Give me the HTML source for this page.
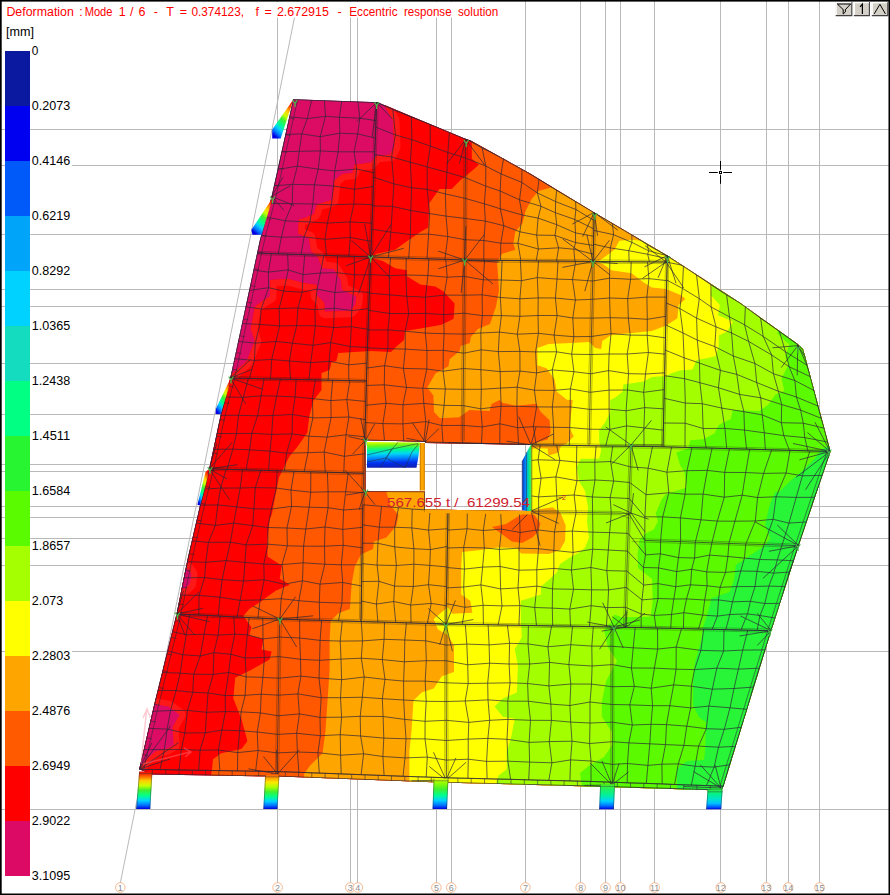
<!DOCTYPE html>
<html><head><meta charset="utf-8"><title>Deformation</title>
<style>html,body{margin:0;padding:0;background:#fff;width:890px;height:895px;overflow:hidden;font-family:"Liberation Sans",sans-serif}</style>
</head><body>
<svg width="890" height="895" viewBox="0 0 890 895" style="position:absolute;left:0;top:0">
<rect x="0" y="0" width="890" height="895" fill="#fff"/>
<g stroke="#b9b9b9" stroke-width="1" fill="none">
<line x1="277.5" y1="0" x2="277.5" y2="883"/>
<line x1="350.5" y1="0" x2="350.5" y2="883"/>
<line x1="357.5" y1="0" x2="357.5" y2="883"/>
<line x1="436.5" y1="0" x2="436.5" y2="883"/>
<line x1="451.5" y1="0" x2="451.5" y2="883"/>
<line x1="525.5" y1="0" x2="525.5" y2="883"/>
<line x1="580.5" y1="0" x2="580.5" y2="883"/>
<line x1="605.5" y1="0" x2="605.5" y2="883"/>
<line x1="620.5" y1="0" x2="620.5" y2="883"/>
<line x1="654.5" y1="0" x2="654.5" y2="883"/>
<line x1="720.5" y1="0" x2="720.5" y2="883"/>
<line x1="766.5" y1="0" x2="766.5" y2="883"/>
<line x1="788.5" y1="0" x2="788.5" y2="883"/>
<line x1="819.5" y1="0" x2="819.5" y2="883"/>
<line x1="0" y1="129.5" x2="890" y2="129.5"/>
<line x1="0" y1="165.5" x2="890" y2="165.5"/>
<line x1="0" y1="234.5" x2="890" y2="234.5"/>
<line x1="0" y1="289.5" x2="890" y2="289.5"/>
<line x1="0" y1="306.5" x2="890" y2="306.5"/>
<line x1="0" y1="363.5" x2="890" y2="363.5"/>
<line x1="0" y1="414.5" x2="890" y2="414.5"/>
<line x1="0" y1="464.5" x2="890" y2="464.5"/>
<line x1="0" y1="471.5" x2="890" y2="471.5"/>
<line x1="0" y1="506.5" x2="890" y2="506.5"/>
<line x1="0" y1="517.5" x2="890" y2="517.5"/>
<line x1="0" y1="538.5" x2="890" y2="538.5"/>
<line x1="0" y1="565.5" x2="890" y2="565.5"/>
<line x1="0" y1="651.5" x2="890" y2="651.5"/>
<line x1="0" y1="809.5" x2="890" y2="809.5"/>
<line x1="120.3" y1="883" x2="298" y2="0"/>
</g>
<g fill="#fff" stroke="#f8b890" stroke-width="1">
<circle cx="120.3" cy="887.5" r="4.8"/>
<circle cx="277.6" cy="887.5" r="4.8"/>
<circle cx="350.3" cy="887.5" r="4.8"/>
<circle cx="357.8" cy="887.5" r="4.8"/>
<circle cx="436.4" cy="887.5" r="4.8"/>
<circle cx="451.2" cy="887.5" r="4.8"/>
<circle cx="525.4" cy="887.5" r="4.8"/>
<circle cx="580.7" cy="887.5" r="4.8"/>
<circle cx="605.6" cy="887.5" r="4.8"/>
<circle cx="620.4" cy="887.5" r="4.8"/>
<circle cx="654.6" cy="887.5" r="4.8"/>
<circle cx="720.8" cy="887.5" r="4.8"/>
<circle cx="766.3" cy="887.5" r="4.8"/>
<circle cx="788.2" cy="887.5" r="4.8"/>
<circle cx="819.5" cy="887.5" r="4.8"/>
</g>
<g font-family="Liberation Sans, sans-serif" font-size="9" fill="#909090" text-anchor="middle">
<text x="120.3" y="890.7">1</text>
<text x="277.6" y="890.7">2</text>
<text x="350.3" y="890.7">3</text>
<text x="357.8" y="890.7">4</text>
<text x="436.4" y="890.7">5</text>
<text x="451.2" y="890.7">6</text>
<text x="525.4" y="890.7">7</text>
<text x="580.7" y="890.7">8</text>
<text x="605.6" y="890.7">9</text>
<text x="620.4" y="890.7">10</text>
<text x="654.6" y="890.7">11</text>
<text x="720.8" y="890.7">12</text>
<text x="766.3" y="890.7">13</text>
<text x="788.2" y="890.7">14</text>
<text x="819.5" y="890.7">15</text>
</g>
<defs><clipPath id="slabclip"><path clip-rule="evenodd" d="M293.2 99.2 L377.8 102.2 L463.5 138.0 L471.1 140.7 L530.0 173.5 L594.2 212.4 L667.3 255.6 L740.0 302.7 L797.3 343.8 L803.0 349.0 L805.0 356.0 L830.5 451.4 L798.6 545.7 L771.2 630.7 L723.5 786.2 L721.5 790.4 L590.0 786.4 L440.0 782.6 L280.0 776.6 L152.4 774.4 L139.2 769.3 L155.3 700.0 L176.5 614.0 L187.6 559.0 L200.0 505.6 L209.2 468.8 L220.8 414.3 L230.3 378.0 L259.9 240.0 L271.6 196.3 Z M365.5 440.3 L424.8 441.8 L425.5 443.0 L531.4 444.8 L531.4 511.0 L424.8 509.5 L424.8 491.5 L365.5 491.3 Z"/></clipPath></defs>
<g clip-path="url(#slabclip)">
<rect x="100" y="80" width="760" height="730" fill="rgb(220,12,100)"/>
<defs><clipPath id="mrclip"><polygon points="381.8,90.0 383.8,104.0 393.0,120.5 394.0,146.7 390.0,154.8 376.7,155.7 370.7,162.8 354.5,164.8 352.5,172.9 342.4,173.9 334.0,181.0 332.0,200.0 317.0,204.5 314.0,214.0 305.0,218.0 299.0,219.6 298.0,233.6 309.0,238.0 311.0,251.0 318.0,257.0 322.0,268.0 334.0,269.0 341.0,280.0 342.0,289.4 356.5,296.5 355.5,304.6 350.5,310.7 325.0,311.7 324.0,302.6 317.0,295.5 316.9,285.0 303.0,283.0 288.5,279.0 270.3,280.0 270.0,296.6 262.9,300.7 254.8,306.7 250.8,329.0 254.8,341.0 246.7,361.4 232.6,373.5 220.0,377.0 100.0,377.0 100.0,900.0 900.0,900.0 900.0,0.0 381.8,0.0"/></clipPath></defs>
<polygon points="381.8,90.0 383.8,104.0 393.0,120.5 394.0,146.7 390.0,154.8 376.7,155.7 370.7,162.8 354.5,164.8 352.5,172.9 342.4,173.9 334.0,181.0 332.0,200.0 317.0,204.5 314.0,214.0 305.0,218.0 299.0,219.6 298.0,233.6 309.0,238.0 311.0,251.0 318.0,257.0 322.0,268.0 334.0,269.0 341.0,280.0 342.0,289.4 356.5,296.5 355.5,304.6 350.5,310.7 325.0,311.7 324.0,302.6 317.0,295.5 316.9,285.0 303.0,283.0 288.5,279.0 270.3,280.0 270.0,296.6 262.9,300.7 254.8,306.7 250.8,329.0 254.8,341.0 246.7,361.4 232.6,373.5 220.0,377.0 100.0,377.0 100.0,900.0 900.0,900.0 900.0,0.0 381.8,0.0" fill="rgb(255,0,0)"/>
<polygon points="381.8,90.0 383.8,104.0 393.0,120.5 394.0,146.7 390.0,154.8 376.7,155.7 370.7,162.8 354.5,164.8 352.5,172.9 342.4,173.9 334.0,181.0 332.0,200.0 317.0,204.5 314.0,214.0 305.0,218.0 299.0,219.6 298.0,233.6 309.0,238.0 311.0,251.0 318.0,257.0 322.0,268.0 334.0,269.0 341.0,280.0 342.0,289.4 356.5,296.5 355.5,304.6 350.5,310.7 325.0,311.7 324.0,302.6 317.0,295.5 316.9,285.0 303.0,283.0 288.5,279.0 270.3,280.0 270.0,296.6 262.9,300.7 254.8,306.7 250.8,329.0 254.8,341.0 246.7,361.4 232.6,373.5 220.0,377.0 100.0,377.0 100.0,900.0 900.0,900.0 900.0,0.0 381.8,0.0" fill="none" stroke="rgb(255,24,24)" stroke-width="13" stroke-linejoin="round" clip-path="url(#mrclip)"/>
<polygon points="183.0,568.0 188.0,569.0 191.5,574.0 190.0,584.0 186.0,588.0 180.0,590.0" fill="rgb(255,24,24)" stroke="rgb(255,24,24)" stroke-width="12" stroke-linejoin="round"/>
<polygon points="148.0,703.0 168.5,706.6 179.7,714.7 172.6,726.9 173.6,745.0 166.5,749.0 156.4,751.0 146.3,759.2 141.0,766.0 130.0,768.0" fill="rgb(255,24,24)" stroke="rgb(255,24,24)" stroke-width="12" stroke-linejoin="round"/>
<polygon points="468.0,130.0 471.8,142.6 471.8,158.8 478.9,164.8 471.8,170.9 460.7,180.0 451.6,189.1 439.4,189.1 429.3,203.3 428.3,227.5 421.2,231.6 409.0,239.7 395.0,249.8 376.7,253.8 370.7,257.5 382.8,261.0 395.0,268.2 407.0,270.2 407.0,276.3 420.2,284.4 435.4,286.4 443.5,291.5 454.6,303.6 453.6,318.8 441.5,324.8 423.3,327.9 405.0,330.9 404.0,340.0 397.0,346.0 391.0,352.0 370.7,351.0 338.3,353.0 336.3,361.2 331.6,362.0 329.6,370.0 321.5,373.0 321.5,390.0 313.4,400.5 309.3,416.6 307.3,432.8 297.2,447.0 289.1,457.0 284.1,467.2 279.0,477.3 275.0,497.5 272.0,513.7 269.6,520.0 267.5,540.2 267.5,556.4 281.7,565.5 279.7,578.7 289.8,584.7 275.6,590.8 261.5,600.9 249.3,609.0 243.3,616.1 251.4,627.2 249.3,635.3 263.5,639.3 261.5,649.4 271.6,651.5 269.6,659.6 251.4,669.7 235.2,677.8 233.3,698.5 241.4,718.8 247.4,741.0 241.4,749.1 221.1,753.2 213.0,759.2 212.0,769.3 209.0,785.0 209.0,900.0 900.0,900.0 900.0,0.0 468.0,0.0" fill="rgb(255,88,0)"/>
<polygon points="554.0,175.0 552.7,187.1 538.5,191.1 531.5,199.2 525.4,211.4 522.4,223.5 515.3,231.6 513.3,243.7 515.3,249.8 502.1,253.8 497.1,261.9 499.0,290.5 496.0,306.6 490.0,324.0 477.9,328.9 470.8,337.0 469.8,343.0 460.7,346.0 459.7,351.0 449.6,359.2 448.5,366.3 435.4,373.4 427.3,387.5 433.4,395.6 434.0,412.0 440.0,418.2 459.2,417.2 469.3,410.0 489.6,411.0 491.6,404.0 499.7,400.0 502.1,402.7 516.3,405.7 536.5,403.7 540.6,411.8 549.6,420.2 550.6,432.4 547.5,439.4 533.4,443.5 500.0,470.0 386.4,492.0 390.5,505.2 398.5,515.3 396.5,525.4 386.4,537.5 374.0,541.6 373.0,549.0 360.9,554.4 354.8,566.5 351.8,582.7 349.8,609.0 338.7,613.0 330.6,621.1 329.6,641.4 329.6,669.7 327.5,700.6 325.5,730.9 322.5,753.2 310.3,765.3 304.3,773.4 303.0,790.0 303.0,900.0 900.0,900.0 900.0,0.0 554.0,0.0" fill="rgb(255,165,0)"/>
<polygon points="641.0,225.0 640.7,240.7 631.6,239.7 619.4,240.7 614.4,249.8 603.3,257.9 597.2,261.9 603.3,264.2 611.4,270.2 631.6,273.3 643.7,282.4 651.8,287.4 666.0,289.0 680.5,295.0 685.5,299.0 678.4,305.2 677.4,318.3 666.3,325.4 651.8,330.9 631.6,332.9 611.4,335.0 602.3,341.0 601.2,349.1 595.2,348.1 589.1,342.0 570.9,343.0 548.7,344.0 537.5,348.1 537.5,365.3 546.6,368.3 554.7,379.4 556.7,391.6 566.9,399.7 572.8,400.0 570.8,416.2 569.8,428.3 573.8,436.4 566.7,443.5 560.7,446.5 558.7,452.6 548.5,455.6 547.5,448.5 532.4,448.5 520.0,480.0 532.4,510.2 552.6,507.2 560.7,513.3 565.7,525.4 565.0,541.0 560.0,550.0 549.0,554.0 521.0,553.5 517.0,548.0 497.0,547.5 480.5,550.0 462.0,552.0 461.2,566.3 461.2,594.6 470.3,600.7 472.4,612.8 452.1,613.8 447.9,607.0 433.7,619.1 437.8,629.2 447.9,635.3 454.0,645.4 454.0,672.0 441.8,676.3 433.7,688.4 421.6,692.5 413.5,700.6 411.5,730.9 409.4,751.1 409.4,777.4 409.0,795.0 409.0,900.0 900.0,900.0 900.0,0.0 641.0,0.0" fill="rgb(255,255,0)"/>
<polygon points="713.0,270.0 711.8,285.0 710.8,295.0 720.0,305.2 717.9,315.3 733.0,321.4 727.0,331.5 718.9,335.5 718.7,346.2 715.6,356.3 696.4,360.3 692.4,369.4 680.0,370.5 672.0,373.0 666.0,376.0 651.8,377.0 643.7,381.5 623.5,384.5 622.5,391.6 615.4,397.6 610.2,400.0 610.2,412.0 605.2,422.2 599.1,430.3 599.1,440.5 601.1,450.6 599.1,458.7 580.9,458.7 576.9,466.7 578.9,480.9 585.0,491.0 588.0,507.2 587.0,521.4 589.0,537.5 585.0,547.7 578.0,553.0 569.0,558.0 560.0,564.0 557.0,572.0 551.0,578.0 541.0,586.5 541.1,594.6 520.9,600.7 520.9,620.9 521.9,637.1 514.8,649.2 517.9,665.4 516.9,692.5 502.7,698.5 494.6,706.6 502.7,716.7 514.8,718.8 510.8,739.0 506.7,751.1 506.7,769.3 498.7,775.4 496.6,781.5 496.0,800.0 496.0,900.0 900.0,900.0 900.0,0.0 713.0,0.0" fill="rgb(163,255,0)"/>
<polygon points="779.0,320.0 777.5,333.5 785.6,341.6 789.4,344.2 785.4,356.3 788.4,364.4 781.4,378.5 784.4,390.7 775.3,394.7 768.2,404.8 759.1,410.9 732.8,409.9 730.8,419.0 718.7,425.0 714.6,433.2 703.5,439.2 690.3,440.2 688.3,448.3 676.2,452.4 680.2,465.5 684.3,471.6 686.3,487.8 676.0,491.0 666.0,494.0 661.8,499.1 655.7,513.3 657.8,521.4 653.7,529.4 645.6,533.5 639.6,539.6 637.5,553.7 638.0,568.0 652.0,579.0 652.7,600.2 650.7,616.4 622.4,617.4 614.3,614.4 611.0,622.0 604.0,630.0 607.9,647.2 617.0,661.0 606.0,681.0 601.8,701.8 601.8,716.7 612.0,732.0 612.0,745.0 604.0,757.0 590.0,765.0 580.0,773.0 581.6,783.5 582.0,800.0 582.0,900.0 900.0,900.0 900.0,0.0 779.0,0.0" fill="rgb(92,250,0)"/>
<polygon points="845.0,440.0 821.8,449.3 813.7,459.4 801.6,471.6 789.4,481.7 779.3,491.8 775.3,492.1 769.2,506.3 765.2,524.5 770.2,538.7 763.2,546.7 745.0,558.9 735.8,565.0 733.8,581.1 729.6,592.1 711.4,598.2 707.3,614.4 703.3,626.5 701.2,640.7 695.2,660.9 693.2,681.1 693.2,705.4 699.2,717.5 706.0,722.0 705.3,747.9 704.0,760.0 687.1,760.9 677.0,769.0 677.0,781.1 677.0,800.0 677.0,900.0 900.0,900.0 900.0,440.0" fill="rgb(40,245,55)"/>
<polygon points="183.0,568.0 188.0,569.0 191.5,574.0 190.0,584.0 186.0,588.0 180.0,590.0" fill="rgb(220,12,100)"/>
<polygon points="148.0,703.0 168.5,706.6 179.7,714.7 172.6,726.9 173.6,745.0 166.5,749.0 156.4,751.0 146.3,759.2 141.0,766.0 130.0,768.0" fill="rgb(220,12,100)"/>
<polygon points="492.0,527.0 506.0,524.0 518.0,516.5 526.0,512.0 534.4,515.0 540.5,523.4 538.4,531.5 532.4,537.5 522.0,543.0 511.8,541.6 503.7,535.5" fill="rgb(255,88,0)"/>
<g fill="none" stroke="#2a2638" stroke-opacity="0.92" stroke-width="0.75" stroke-linejoin="round">
<polyline points="293.2,99.2 289.4,116.8 285.6,134.4 281.8,151.7 278.0,169.4 274.2,185.7 270.1,203.5 265.6,216.8 261.0,235.7 257.1,253.0"/>
<polyline points="311.7,99.8 307.3,118.6 301.8,133.9 299.2,151.3 297.4,166.2 292.7,184.4 292.3,203.6 285.3,220.8 281.4,237.2 278.2,253.8"/>
<polyline points="324.4,100.4 325.5,116.3 320.2,136.7 320.4,150.9 318.2,169.1 314.5,184.8 312.8,204.0 309.9,222.0 304.1,236.9 301.0,254.6"/>
<polyline points="341.7,101.0 339.4,117.3 339.8,133.2 338.1,151.8 334.7,170.9 333.5,186.0 331.4,204.8 327.4,223.1 325.0,239.3 326.5,255.4"/>
<polyline points="357.9,101.6 359.8,118.2 357.7,133.9 354.1,151.8 356.6,169.0 354.5,189.3 353.9,204.0 350.0,221.9 350.3,237.4 348.9,256.2"/>
<polyline points="376.7,102.2 376.0,120.6 375.4,138.1 374.7,151.8 374.0,172.8 373.4,186.5 372.7,204.7 372.0,223.1 371.4,241.5 370.7,257.0"/>
<polyline points="293.2,99.2 311.7,99.8 324.4,100.4 341.7,101.0 357.9,101.6 376.7,102.2"/>
<polyline points="289.4,116.8 307.3,118.6 325.5,116.3 339.4,117.3 359.8,118.2 376.0,120.6"/>
<polyline points="285.6,134.4 301.8,133.9 320.2,136.7 339.8,133.2 357.7,133.9 375.4,138.1"/>
<polyline points="281.8,151.7 299.2,151.3 320.4,150.9 338.1,151.8 354.1,151.8 374.7,151.8"/>
<polyline points="278.0,169.4 297.4,166.2 318.2,169.1 334.7,170.9 356.6,169.0 374.0,172.8"/>
<polyline points="274.2,185.7 292.7,184.4 314.5,184.8 333.5,186.0 354.5,189.3 373.4,186.5"/>
<polyline points="270.1,203.5 292.3,203.6 312.8,204.0 331.4,204.8 353.9,204.0 372.7,204.7"/>
<polyline points="265.6,216.8 285.3,220.8 309.9,222.0 327.4,223.1 350.0,221.9 372.0,223.1"/>
<polyline points="261.0,235.7 281.4,237.2 304.1,236.9 325.0,239.3 350.3,237.4 371.4,241.5"/>
<polyline points="257.1,253.0 278.2,253.8 301.0,254.6 326.5,255.4 348.9,256.2 370.7,257.0"/>
<polyline points="257.1,253.0 253.3,270.1 249.5,290.4 245.6,306.7 241.8,323.5 238.0,341.4 234.1,358.7 230.3,378.0"/>
<polyline points="271.5,253.5 268.4,272.1 268.6,287.7 261.2,309.0 259.9,324.4 255.3,343.1 254.4,360.4 249.3,378.4"/>
<polyline points="287.6,254.1 288.3,269.9 283.6,291.1 279.1,308.5 279.6,325.9 276.0,341.5 271.7,359.5 270.5,378.9"/>
<polyline points="304.8,254.7 303.0,274.6 302.2,292.2 298.0,308.0 296.7,325.7 292.4,343.2 289.4,361.0 290.5,379.3"/>
<polyline points="323.8,255.3 320.4,273.0 317.1,289.1 314.9,309.7 315.3,325.8 313.0,345.3 310.7,362.6 309.0,379.7"/>
<polyline points="337.5,255.8 337.4,272.7 334.9,292.5 334.2,308.2 333.7,327.5 330.7,342.6 329.1,361.3 328.1,380.2"/>
<polyline points="354.2,256.4 354.6,274.8 353.4,291.2 351.7,310.6 351.3,326.7 350.3,346.6 348.7,364.8 348.8,380.6"/>
<polyline points="370.7,257.0 370.0,274.8 369.4,292.5 368.7,308.7 368.1,329.3 367.4,347.4 366.9,363.2 366.4,381.0"/>
<polyline points="257.1,253.0 271.5,253.5 287.6,254.1 304.8,254.7 323.8,255.3 337.5,255.8 354.2,256.4 370.7,257.0"/>
<polyline points="253.3,270.1 268.4,272.1 288.3,269.9 303.0,274.6 320.4,273.0 337.4,272.7 354.6,274.8 370.0,274.8"/>
<polyline points="249.5,290.4 268.6,287.7 283.6,291.1 302.2,292.2 317.1,289.1 334.9,292.5 353.4,291.2 369.4,292.5"/>
<polyline points="245.6,306.7 261.2,309.0 279.1,308.5 298.0,308.0 314.9,309.7 334.2,308.2 351.7,310.6 368.7,308.7"/>
<polyline points="241.8,323.5 259.9,324.4 279.6,325.9 296.7,325.7 315.3,325.8 333.7,327.5 351.3,326.7 368.1,329.3"/>
<polyline points="238.0,341.4 255.3,343.1 276.0,341.5 292.4,343.2 313.0,345.3 330.7,342.6 350.3,346.6 367.4,347.4"/>
<polyline points="234.1,358.7 254.4,360.4 271.7,359.5 289.4,361.0 310.7,362.6 329.1,361.3 348.7,364.8 366.9,363.2"/>
<polyline points="230.3,378.0 249.3,378.4 270.5,378.9 290.5,379.3 309.0,379.7 328.1,380.2 348.8,380.6 366.4,381.0"/>
<polyline points="230.3,378.0 225.5,397.0 220.8,415.3 216.9,433.5 213.1,449.3 209.2,468.8"/>
<polyline points="248.4,378.4 243.3,397.3 238.5,415.3 236.5,433.6 232.8,449.2 227.0,469.4"/>
<polyline points="264.0,378.8 261.1,395.8 257.6,415.8 251.8,433.3 249.6,449.8 246.1,469.9"/>
<polyline points="280.4,379.1 276.7,396.1 272.9,415.5 271.7,434.4 270.0,451.1 268.6,470.5"/>
<polyline points="296.1,379.5 295.1,396.9 292.5,414.5 292.1,433.9 286.5,453.2 284.5,471.0"/>
<polyline points="315.4,379.9 312.4,398.6 312.9,417.9 308.9,436.2 308.0,452.7 304.1,471.6"/>
<polyline points="332.7,380.3 330.9,400.6 331.1,417.5 327.1,437.1 324.2,452.1 325.2,472.2"/>
<polyline points="349.8,380.7 346.8,399.6 348.9,417.0 346.0,434.8 344.4,456.3 343.8,472.7"/>
<polyline points="366.4,381.0 365.9,401.4 365.4,419.7 364.8,436.8 364.3,453.8 363.8,473.3"/>
<polyline points="230.3,378.0 248.4,378.4 264.0,378.8 280.4,379.1 296.1,379.5 315.4,379.9 332.7,380.3 349.8,380.7 366.4,381.0"/>
<polyline points="225.5,397.0 243.3,397.3 261.1,395.8 276.7,396.1 295.1,396.9 312.4,398.6 330.9,400.6 346.8,399.6 365.9,401.4"/>
<polyline points="220.8,415.3 238.5,415.3 257.6,415.8 272.9,415.5 292.5,414.5 312.9,417.9 331.1,417.5 348.9,417.0 365.4,419.7"/>
<polyline points="216.9,433.5 236.5,433.6 251.8,433.3 271.7,434.4 292.1,433.9 308.9,436.2 327.1,437.1 346.0,434.8 364.8,436.8"/>
<polyline points="213.1,449.3 232.8,449.2 249.6,449.8 270.0,451.1 286.5,453.2 308.0,452.7 324.2,452.1 344.4,456.3 364.3,453.8"/>
<polyline points="209.2,468.8 227.0,469.4 246.1,469.9 268.6,470.5 284.5,471.0 304.1,471.6 325.2,472.2 343.8,472.7 363.8,473.3"/>
<polyline points="209.2,468.8 204.6,489.0 200.1,505.2 195.9,523.0 191.7,540.8 187.5,561.7 183.8,577.8 180.2,595.0 176.5,614.0"/>
<polyline points="226.2,469.3 220.6,488.1 217.8,504.9 215.4,525.4 208.4,542.4 205.8,562.3 204.6,577.6 199.1,595.4 198.8,615.0"/>
<polyline points="242.5,469.8 240.2,488.0 236.7,506.9 233.7,523.1 230.4,542.2 226.1,560.6 222.2,579.7 220.0,597.2 218.2,616.0"/>
<polyline points="260.9,470.3 255.3,487.6 253.9,508.8 252.8,525.6 246.1,544.9 245.0,562.4 243.6,581.0 240.1,600.4 237.0,617.0"/>
<polyline points="277.2,470.8 276.3,488.0 271.3,509.0 267.8,527.5 267.9,544.2 263.8,564.1 264.2,579.8 260.2,599.9 257.9,618.0"/>
<polyline points="294.1,471.3 291.0,490.1 291.5,506.4 287.0,528.0 287.3,545.8 282.0,564.6 284.2,584.2 281.2,598.7 279.9,619.0"/>
<polyline points="310.8,471.8 310.7,492.2 309.2,507.2 305.8,529.0 303.6,546.2 303.1,562.8 302.5,580.8 298.9,600.7 297.2,619.7"/>
<polyline points="327.4,472.3 328.1,491.8 328.1,507.7 325.0,527.0 324.5,546.2 324.8,564.2 320.0,584.1 319.3,602.3 319.7,620.3"/>
<polyline points="348.2,472.8 345.7,491.8 343.6,510.0 342.8,529.4 343.2,545.3 341.3,564.8 342.7,582.5 341.9,603.0 338.5,620.9"/>
<polyline points="363.8,473.3 363.2,492.5 362.8,508.6 362.5,527.3 362.2,547.8 361.9,564.8 361.6,586.0 361.3,602.9 361.0,621.5"/>
<polyline points="209.2,468.8 226.2,469.3 242.5,469.8 260.9,470.3 277.2,470.8 294.1,471.3 310.8,471.8 327.4,472.3 348.2,472.8 363.8,473.3"/>
<polyline points="204.6,489.0 220.6,488.1 240.2,488.0 255.3,487.6 276.3,488.0 291.0,490.1 310.7,492.2 328.1,491.8 345.7,491.8 363.2,492.5"/>
<polyline points="200.1,505.2 217.8,504.9 236.7,506.9 253.9,508.8 271.3,509.0 291.5,506.4 309.2,507.2 328.1,507.7 343.6,510.0 362.8,508.6"/>
<polyline points="195.9,523.0 215.4,525.4 233.7,523.1 252.8,525.6 267.8,527.5 287.0,528.0 305.8,529.0 325.0,527.0 342.8,529.4 362.5,527.3"/>
<polyline points="191.7,540.8 208.4,542.4 230.4,542.2 246.1,544.9 267.9,544.2 287.3,545.8 303.6,546.2 324.5,546.2 343.2,545.3 362.2,547.8"/>
<polyline points="187.5,561.7 205.8,562.3 226.1,560.6 245.0,562.4 263.8,564.1 282.0,564.6 303.1,562.8 324.8,564.2 341.3,564.8 361.9,564.8"/>
<polyline points="183.8,577.8 204.6,577.6 222.2,579.7 243.6,581.0 264.2,579.8 284.2,584.2 302.5,580.8 320.0,584.1 342.7,582.5 361.6,586.0"/>
<polyline points="180.2,595.0 199.1,595.4 220.0,597.2 240.1,600.4 260.2,599.9 281.2,598.7 298.9,600.7 319.3,602.3 341.9,603.0 361.3,602.9"/>
<polyline points="176.5,614.0 198.8,615.0 218.2,616.0 237.0,617.0 257.9,618.0 279.9,619.0 297.2,619.7 319.7,620.3 338.5,620.9 361.0,621.5"/>
<polyline points="376.7,102.5 375.7,127.2 374.7,154.7 373.7,177.2 372.7,205.9 371.7,229.1 370.7,257.0"/>
<polyline points="392.9,109.7 395.4,134.9 391.6,157.0 393.9,183.9 392.5,206.4 390.8,232.1 388.4,257.6"/>
<polyline points="411.3,117.0 411.9,139.7 410.3,162.2 411.6,187.8 410.8,210.5 410.4,234.5 408.7,258.2"/>
<polyline points="430.1,124.2 430.4,146.1 427.2,166.9 427.2,189.3 429.6,213.6 428.6,234.1 427.0,258.8"/>
<polyline points="449.4,131.5 447.9,152.5 447.0,172.3 445.4,193.9 446.0,216.1 447.8,236.5 444.9,259.4"/>
<polyline points="465.7,138.8 465.5,158.0 465.4,177.7 465.2,198.4 465.0,218.4 464.9,239.7 464.7,260.0"/>
<polyline points="482.2,148.0 485.8,166.1 485.7,186.1 484.4,203.8 485.3,221.1 483.9,240.5 483.8,260.2"/>
<polyline points="503.6,158.3 501.0,173.9 500.2,191.0 500.3,208.8 503.8,225.7 500.8,243.2 500.5,260.4"/>
<polyline points="522.0,168.5 521.8,182.4 519.5,199.8 522.2,215.0 519.9,231.8 517.9,243.3 520.9,260.6"/>
<polyline points="539.0,179.2 537.3,192.9 541.0,206.3 538.1,218.1 536.7,235.1 538.3,249.0 536.2,260.9"/>
<polyline points="556.6,190.3 555.6,201.6 555.4,212.7 556.7,224.7 555.0,235.4 558.6,247.8 556.5,261.1"/>
<polyline points="575.6,201.4 575.9,209.5 574.8,219.5 575.5,232.9 575.6,242.6 573.8,249.2 574.9,261.3"/>
<polyline points="594.2,212.4 594.0,220.4 593.8,228.9 593.7,236.3 593.5,245.5 593.3,254.2 593.1,261.5"/>
<polyline points="376.7,102.5 392.9,109.7 411.3,117.0 430.1,124.2 449.4,131.5 465.7,138.8 482.2,148.0 503.6,158.3 522.0,168.5 539.0,179.2 556.6,190.3 575.6,201.4 594.2,212.4"/>
<polyline points="375.7,127.2 395.4,134.9 411.9,139.7 430.4,146.1 447.9,152.5 465.5,158.0 485.8,166.1 501.0,173.9 521.8,182.4 537.3,192.9 555.6,201.6 575.9,209.5 594.0,220.4"/>
<polyline points="374.7,154.7 391.6,157.0 410.3,162.2 427.2,166.9 447.0,172.3 465.4,177.7 485.7,186.1 500.2,191.0 519.5,199.8 541.0,206.3 555.4,212.7 574.8,219.5 593.8,228.9"/>
<polyline points="373.7,177.2 393.9,183.9 411.6,187.8 427.2,189.3 445.4,193.9 465.2,198.4 484.4,203.8 500.3,208.8 522.2,215.0 538.1,218.1 556.7,224.7 575.5,232.9 593.7,236.3"/>
<polyline points="372.7,205.9 392.5,206.4 410.8,210.5 429.6,213.6 446.0,216.1 465.0,218.4 485.3,221.1 503.8,225.7 519.9,231.8 536.7,235.1 555.0,235.4 575.6,242.6 593.5,245.5"/>
<polyline points="371.7,229.1 390.8,232.1 410.4,234.5 428.6,234.1 447.8,236.5 464.9,239.7 483.9,240.5 500.8,243.2 517.9,243.3 538.3,249.0 558.6,247.8 573.8,249.2 593.3,254.2"/>
<polyline points="370.7,257.0 388.4,257.6 408.7,258.2 427.0,258.8 444.9,259.4 464.7,260.0 483.8,260.2 500.5,260.4 520.9,260.6 536.2,260.9 556.5,261.1 574.9,261.3 593.1,261.5"/>
<polyline points="594.2,212.4 593.8,230.4 593.5,244.2 593.1,261.5"/>
<polyline points="612.3,223.2 613.6,234.7 610.3,247.9 609.9,261.6"/>
<polyline points="631.9,234.0 631.9,242.4 628.8,250.7 629.1,261.8"/>
<polyline points="647.3,244.8 648.6,250.8 647.7,254.3 649.5,261.9"/>
<polyline points="667.3,255.6 667.3,255.8 667.2,258.6 667.2,262.0"/>
<polyline points="594.2,212.4 612.3,223.2 631.9,234.0 647.3,244.8 667.3,255.6"/>
<polyline points="593.8,230.4 613.6,234.7 631.9,242.4 648.6,250.8 667.3,255.8"/>
<polyline points="593.5,244.2 610.3,247.9 628.8,250.7 647.7,254.3 667.2,258.6"/>
<polyline points="593.1,261.5 609.9,261.6 629.1,261.8 649.5,261.9 667.2,262.0"/>
<polyline points="370.7,257.0 370.0,274.4 369.3,293.1 368.6,310.3 368.0,330.0 367.4,347.8 366.8,368.0 366.3,385.5 365.8,405.3 365.2,422.6 364.7,440.3"/>
<polyline points="390.6,257.6 389.2,275.7 389.6,294.9 389.6,313.5 388.0,329.9 387.9,348.7 384.6,365.7 384.3,384.8 386.0,403.3 382.9,423.6 384.5,440.8"/>
<polyline points="406.3,258.2 405.9,275.0 406.7,296.3 408.7,313.6 405.2,331.2 405.3,349.1 403.4,368.4 406.5,387.4 403.0,404.8 402.9,423.9 403.7,441.4"/>
<polyline points="428.9,258.8 427.9,275.5 425.5,297.2 425.7,313.4 425.3,333.1 427.0,350.5 426.8,369.0 422.8,388.3 423.8,403.4 425.8,421.6 423.8,441.9"/>
<polyline points="445.8,259.4 447.2,277.2 444.1,295.1 443.7,314.6 444.1,333.7 443.3,350.3 443.1,371.2 445.3,389.0 444.1,405.4 441.8,425.5 443.0,442.4"/>
<polyline points="464.7,260.0 464.5,276.4 464.3,295.2 464.1,313.2 463.9,334.1 463.7,353.2 463.5,368.5 463.3,389.3 463.1,405.6 462.9,425.4 462.7,442.9"/>
<polyline points="484.6,260.2 483.3,279.8 482.1,294.8 482.4,315.6 480.8,333.0 481.1,349.8 480.9,369.7 481.3,389.3 480.8,408.8 482.3,426.9 481.5,443.4"/>
<polyline points="502.1,260.4 501.3,280.0 500.3,297.5 501.4,315.6 499.4,332.1 498.3,351.6 500.2,371.6 500.5,388.1 501.1,406.3 499.9,423.8 499.8,443.9"/>
<polyline points="520.4,260.6 521.4,280.7 519.9,298.8 519.9,316.3 517.3,334.2 519.9,351.4 520.0,371.1 517.2,387.2 516.9,406.3 517.7,427.7 518.5,444.4"/>
<polyline points="538.6,260.9 537.3,277.6 538.2,297.9 538.0,315.5 538.4,333.3 535.6,351.9 536.6,372.9 534.4,390.2 536.6,406.9 533.3,426.7 536.2,444.9"/>
<polyline points="558.0,261.1 557.0,279.1 555.4,298.0 557.1,315.5 554.1,335.1 556.6,351.8 552.3,369.9 554.2,390.4 552.3,407.0 553.6,427.3 553.7,445.1"/>
<polyline points="575.7,261.3 572.5,279.6 575.4,300.0 572.8,318.0 573.8,336.7 571.7,354.2 573.9,371.7 570.4,388.9 570.2,406.9 569.8,427.5 569.3,445.4"/>
<polyline points="593.1,261.5 592.7,281.0 592.3,299.3 591.9,318.1 591.4,336.5 591.0,354.5 590.6,373.8 590.2,392.3 589.8,409.4 589.4,429.2 589.0,445.7"/>
<polyline points="609.9,261.6 609.5,278.2 609.6,298.0 610.2,317.7 611.0,333.6 609.1,354.0 608.6,370.6 609.1,390.1 609.1,409.1 609.8,429.4 605.7,446.0"/>
<polyline points="631.2,261.8 630.6,279.3 627.7,298.6 628.3,318.1 630.2,335.1 627.2,354.0 628.5,373.7 627.5,390.0 626.1,410.8 626.5,425.9 625.7,446.2"/>
<polyline points="647.5,261.9 648.9,278.6 646.9,297.1 647.3,319.3 647.2,335.3 648.4,352.5 645.5,374.0 643.7,392.3 644.7,407.6 643.9,427.9 644.0,446.5"/>
<polyline points="667.2,262.0 666.7,280.6 666.3,297.1 665.9,316.3 665.5,337.9 665.1,354.2 664.7,372.8 664.2,389.6 663.8,408.9 663.4,430.2 663.0,446.8"/>
<polyline points="370.7,257.0 390.6,257.6 406.3,258.2 428.9,258.8 445.8,259.4 464.7,260.0 484.6,260.2 502.1,260.4 520.4,260.6 538.6,260.9 558.0,261.1 575.7,261.3 593.1,261.5 609.9,261.6 631.2,261.8 647.5,261.9 667.2,262.0"/>
<polyline points="370.0,274.4 389.2,275.7 405.9,275.0 427.9,275.5 447.2,277.2 464.5,276.4 483.3,279.8 501.3,280.0 521.4,280.7 537.3,277.6 557.0,279.1 572.5,279.6 592.7,281.0 609.5,278.2 630.6,279.3 648.9,278.6 666.7,280.6"/>
<polyline points="369.3,293.1 389.6,294.9 406.7,296.3 425.5,297.2 444.1,295.1 464.3,295.2 482.1,294.8 500.3,297.5 519.9,298.8 538.2,297.9 555.4,298.0 575.4,300.0 592.3,299.3 609.6,298.0 627.7,298.6 646.9,297.1 666.3,297.1"/>
<polyline points="368.6,310.3 389.6,313.5 408.7,313.6 425.7,313.4 443.7,314.6 464.1,313.2 482.4,315.6 501.4,315.6 519.9,316.3 538.0,315.5 557.1,315.5 572.8,318.0 591.9,318.1 610.2,317.7 628.3,318.1 647.3,319.3 665.9,316.3"/>
<polyline points="368.0,330.0 388.0,329.9 405.2,331.2 425.3,333.1 444.1,333.7 463.9,334.1 480.8,333.0 499.4,332.1 517.3,334.2 538.4,333.3 554.1,335.1 573.8,336.7 591.4,336.5 611.0,333.6 630.2,335.1 647.2,335.3 665.5,337.9"/>
<polyline points="367.4,347.8 387.9,348.7 405.3,349.1 427.0,350.5 443.3,350.3 463.7,353.2 481.1,349.8 498.3,351.6 519.9,351.4 535.6,351.9 556.6,351.8 571.7,354.2 591.0,354.5 609.1,354.0 627.2,354.0 648.4,352.5 665.1,354.2"/>
<polyline points="366.8,368.0 384.6,365.7 403.4,368.4 426.8,369.0 443.1,371.2 463.5,368.5 480.9,369.7 500.2,371.6 520.0,371.1 536.6,372.9 552.3,369.9 573.9,371.7 590.6,373.8 608.6,370.6 628.5,373.7 645.5,374.0 664.7,372.8"/>
<polyline points="366.3,385.5 384.3,384.8 406.5,387.4 422.8,388.3 445.3,389.0 463.3,389.3 481.3,389.3 500.5,388.1 517.2,387.2 534.4,390.2 554.2,390.4 570.4,388.9 590.2,392.3 609.1,390.1 627.5,390.0 643.7,392.3 664.2,389.6"/>
<polyline points="365.8,405.3 386.0,403.3 403.0,404.8 423.8,403.4 444.1,405.4 463.1,405.6 480.8,408.8 501.1,406.3 516.9,406.3 536.6,406.9 552.3,407.0 570.2,406.9 589.8,409.4 609.1,409.1 626.1,410.8 644.7,407.6 663.8,408.9"/>
<polyline points="365.2,422.6 382.9,423.6 402.9,423.9 425.8,421.6 441.8,425.5 462.9,425.4 482.3,426.9 499.9,423.8 517.7,427.7 533.3,426.7 553.6,427.3 569.8,427.5 589.4,429.2 609.8,429.4 626.5,425.9 643.9,427.9 663.4,430.2"/>
<polyline points="364.7,440.3 384.5,440.8 403.7,441.4 423.8,441.9 443.0,442.4 462.7,442.9 481.5,443.4 499.8,443.9 518.5,444.4 536.2,444.9 553.7,445.1 569.3,445.4 589.0,445.7 605.7,446.0 625.7,446.2 644.0,446.5 663.0,446.8"/>
<polyline points="667.3,255.6 666.8,280.0 666.2,303.0 665.7,324.9 665.2,350.1 664.6,375.7 664.1,398.3 663.5,423.0 663.0,446.8"/>
<polyline points="683.5,265.0 682.4,288.4 679.9,308.6 683.0,333.0 684.1,357.8 684.6,378.7 685.3,403.1 685.1,423.2 685.0,447.4"/>
<polyline points="696.5,274.7 699.3,298.7 696.6,318.1 697.3,340.1 699.5,363.1 699.9,382.7 702.3,403.7 703.1,428.5 706.2,448.0"/>
<polyline points="710.9,284.7 711.1,307.0 716.0,326.9 714.8,346.6 720.4,370.4 718.4,387.7 721.8,408.1 724.9,428.4 726.7,448.5"/>
<polyline points="726.6,295.0 729.5,316.9 731.6,333.0 733.3,356.0 736.8,374.4 739.6,394.4 743.9,411.7 744.5,430.1 746.6,449.1"/>
<polyline points="745.4,305.9 744.6,324.8 748.6,341.4 754.9,363.5 756.7,382.5 760.7,397.8 762.2,414.9 764.3,432.8 765.4,449.7"/>
<polyline points="760.6,318.1 763.2,336.4 771.7,355.0 773.4,373.7 778.4,391.3 781.7,404.6 781.3,422.7 783.8,435.6 789.4,450.3"/>
<polyline points="779.2,330.7 785.5,351.8 789.1,366.7 794.9,380.6 796.4,397.0 800.6,410.1 803.3,423.2 804.8,437.6 807.9,450.9"/>
<polyline points="797.3,343.8 806.9,365.2 810.8,376.9 814.6,390.8 818.1,406.1 821.4,418.4 824.6,428.3 827.6,442.0 830.5,451.4"/>
<polyline points="667.3,255.6 683.5,265.0 696.5,274.7 710.9,284.7 726.6,295.0 745.4,305.9 760.6,318.1 779.2,330.7 797.3,343.8"/>
<polyline points="666.8,280.0 682.4,288.4 699.3,298.7 711.1,307.0 729.5,316.9 744.6,324.8 763.2,336.4 785.5,351.8 806.9,365.2"/>
<polyline points="666.2,303.0 679.9,308.6 696.6,318.1 716.0,326.9 731.6,333.0 748.6,341.4 771.7,355.0 789.1,366.7 810.8,376.9"/>
<polyline points="665.7,324.9 683.0,333.0 697.3,340.1 714.8,346.6 733.3,356.0 754.9,363.5 773.4,373.7 794.9,380.6 814.6,390.8"/>
<polyline points="665.2,350.1 684.1,357.8 699.5,363.1 720.4,370.4 736.8,374.4 756.7,382.5 778.4,391.3 796.4,397.0 818.1,406.1"/>
<polyline points="664.6,375.7 684.6,378.7 699.9,382.7 718.4,387.7 739.6,394.4 760.7,397.8 781.7,404.6 800.6,410.1 821.4,418.4"/>
<polyline points="664.1,398.3 685.3,403.1 702.3,403.7 721.8,408.1 743.9,411.7 762.2,414.9 781.3,422.7 803.3,423.2 824.6,428.3"/>
<polyline points="663.5,423.0 685.1,423.2 703.1,428.5 724.9,428.4 744.5,430.1 764.3,432.8 783.8,435.6 804.8,437.6 827.6,442.0"/>
<polyline points="663.0,446.8 685.0,447.4 706.2,448.0 726.7,448.5 746.6,449.1 765.4,449.7 789.4,450.3 807.9,450.9 830.5,451.4"/>
<polyline points="362.9,504.8 362.6,524.8 362.3,543.2 361.9,563.7 361.6,581.5 361.3,601.0 361.0,621.5"/>
<polyline points="381.5,506.3 379.3,527.2 377.9,543.3 377.1,565.1 378.9,581.3 376.4,604.1 377.9,622.0"/>
<polyline points="398.5,507.7 394.7,527.2 394.7,546.9 396.4,565.5 394.5,586.1 393.7,601.5 395.8,622.5"/>
<polyline points="412.2,509.1 411.8,527.9 413.9,548.7 413.9,564.2 413.3,586.5 410.7,605.1 411.0,623.0"/>
<polyline points="430.1,510.1 428.6,530.1 430.4,549.6 429.8,565.4 428.5,584.7 431.2,603.4 427.3,623.5"/>
<polyline points="448.0,510.4 447.7,528.7 447.3,546.5 447.0,566.9 446.7,586.6 446.3,605.7 446.0,624.0"/>
<polyline points="362.9,504.8 381.5,506.3 398.5,507.7 412.2,509.1 430.1,510.1 448.0,510.4"/>
<polyline points="362.6,524.8 379.3,527.2 394.7,527.2 411.8,527.9 428.6,530.1 447.7,528.7"/>
<polyline points="362.3,543.2 377.9,543.3 394.7,546.9 413.9,548.7 430.4,549.6 447.3,546.5"/>
<polyline points="361.9,563.7 377.1,565.1 396.4,565.5 413.9,564.2 429.8,565.4 447.0,566.9"/>
<polyline points="361.6,581.5 378.9,581.3 394.5,586.1 413.3,586.5 428.5,584.7 446.7,586.6"/>
<polyline points="361.3,601.0 376.4,604.1 393.7,601.5 410.7,605.1 431.2,603.4 446.3,605.7"/>
<polyline points="361.0,621.5 377.9,622.0 395.8,622.5 411.0,623.0 427.3,623.5 446.0,624.0"/>
<polyline points="449.2,442.6 448.9,458.2 448.6,475.0 448.3,493.4 448.0,510.4 447.7,530.1 447.3,548.0 447.0,567.5 446.7,587.9 446.3,603.6 446.0,624.0"/>
<polyline points="466.4,443.1 467.0,460.1 468.4,477.1 467.1,493.4 467.3,510.7 467.1,528.8 463.7,547.5 464.4,569.1 463.7,587.0 464.9,607.3 462.3,624.3"/>
<polyline points="486.7,443.6 484.5,458.7 485.4,478.7 484.9,492.2 486.1,511.0 483.3,530.5 484.3,547.9 482.6,567.1 480.9,584.9 483.1,605.3 483.4,624.6"/>
<polyline points="501.9,444.1 502.5,459.5 504.8,478.9 504.3,494.5 500.6,511.3 501.5,529.1 499.4,549.4 500.1,566.5 500.6,588.9 502.0,605.9 498.1,625.0"/>
<polyline points="523.0,444.6 519.9,461.5 519.4,480.1 520.9,494.5 519.4,511.6 520.1,532.5 519.1,548.2 519.0,570.2 518.0,587.9 519.8,605.6 518.9,625.3"/>
<polyline points="540.2,444.9 538.1,459.8 541.1,478.2 538.6,496.9 538.7,511.8 537.9,529.9 538.5,548.7 536.8,569.8 536.9,586.1 534.7,607.5 536.5,625.6"/>
<polyline points="556.6,445.2 559.9,460.4 555.9,476.9 556.7,495.9 558.0,512.1 554.5,531.9 553.8,550.4 553.9,568.4 552.5,588.9 552.3,608.1 552.7,625.9"/>
<polyline points="576.8,445.5 576.5,462.2 577.0,480.7 574.1,495.0 576.1,512.4 572.4,531.1 573.1,552.4 571.4,570.0 573.5,589.3 569.8,609.1 570.5,626.2"/>
<polyline points="596.1,445.8 594.8,462.2 595.0,480.0 592.4,497.0 592.6,512.7 592.9,532.2 592.7,549.2 590.9,567.5 591.6,589.8 591.2,605.7 589.4,626.6"/>
<polyline points="612.7,446.0 610.6,461.5 613.7,481.0 610.1,497.6 611.3,513.0 609.6,532.6 608.3,550.0 606.8,570.6 608.6,589.9 607.7,607.6 606.3,626.9"/>
<polyline points="630.9,446.3 630.3,466.9 629.7,482.5 629.2,498.5 628.7,513.3 628.1,533.4 627.5,551.1 626.9,571.1 626.2,587.4 625.6,607.3 625.0,627.3"/>
<polyline points="652.5,446.6 648.1,468.2 646.0,494.7 644.9,516.8 644.8,540.4 645.5,554.9 643.4,567.5 643.6,585.1 642.0,599.9 641.1,614.0 641.2,627.6"/>
<polyline points="671.6,447.0 666.9,472.2 668.8,492.8 662.7,516.9 660.6,541.0 660.4,553.8 658.5,567.9 658.0,583.6 658.0,598.5 654.3,615.4 656.0,628.0"/>
<polyline points="692.0,447.6 687.0,470.7 685.1,494.2 680.4,517.9 680.6,541.6 678.5,557.6 676.7,571.6 675.8,586.7 673.8,599.0 671.5,614.5 670.7,628.3"/>
<polyline points="712.1,448.1 707.3,470.4 703.1,494.1 701.0,519.8 695.3,542.2 694.6,558.0 691.7,569.3 690.6,584.8 686.5,598.9 683.8,612.7 683.4,628.6"/>
<polyline points="729.5,448.7 724.7,472.4 724.3,497.2 717.3,521.1 711.9,542.8 709.6,555.1 706.7,571.9 707.1,585.8 704.7,600.0 702.7,615.1 698.5,629.0"/>
<polyline points="749.7,449.2 745.7,472.5 742.2,495.2 734.9,521.2 728.9,543.4 727.9,556.5 725.5,572.4 720.1,587.3 718.5,599.9 717.4,616.1 712.2,629.3"/>
<polyline points="771.7,449.8 763.6,473.4 757.6,497.5 755.3,521.0 745.8,544.0 744.4,558.1 740.8,571.0 736.7,586.6 732.5,601.8 729.8,614.5 725.8,629.7"/>
<polyline points="790.0,450.3 786.1,473.0 776.1,496.8 773.1,519.3 764.1,544.5 759.7,559.5 757.0,571.3 755.0,586.5 750.4,601.3 747.5,613.9 741.0,630.0"/>
<polyline points="809.8,450.9 802.4,475.8 796.2,497.4 789.0,523.1 782.0,545.1 777.3,559.9 773.8,573.1 768.9,586.1 764.8,603.5 760.0,615.5 757.1,630.4"/>
<polyline points="830.5,451.4 822.5,475.4 814.5,497.3 806.6,521.9 798.6,545.7 794.0,560.8 789.5,572.0 784.9,586.5 780.4,603.4 775.8,618.2 771.2,630.7"/>
<polyline points="449.2,442.6 466.4,443.1 486.7,443.6 501.9,444.1 523.0,444.6 540.2,444.9 556.6,445.2 576.8,445.5 596.1,445.8 612.7,446.0 630.9,446.3 652.5,446.6 671.6,447.0 692.0,447.6 712.1,448.1 729.5,448.7 749.7,449.2 771.7,449.8 790.0,450.3 809.8,450.9 830.5,451.4"/>
<polyline points="448.9,458.2 467.0,460.1 484.5,458.7 502.5,459.5 519.9,461.5 538.1,459.8 559.9,460.4 576.5,462.2 594.8,462.2 610.6,461.5 630.3,466.9 648.1,468.2 666.9,472.2 687.0,470.7 707.3,470.4 724.7,472.4 745.7,472.5 763.6,473.4 786.1,473.0 802.4,475.8 822.5,475.4"/>
<polyline points="448.6,475.0 468.4,477.1 485.4,478.7 504.8,478.9 519.4,480.1 541.1,478.2 555.9,476.9 577.0,480.7 595.0,480.0 613.7,481.0 629.7,482.5 646.0,494.7 668.8,492.8 685.1,494.2 703.1,494.1 724.3,497.2 742.2,495.2 757.6,497.5 776.1,496.8 796.2,497.4 814.5,497.3"/>
<polyline points="448.3,493.4 467.1,493.4 484.9,492.2 504.3,494.5 520.9,494.5 538.6,496.9 556.7,495.9 574.1,495.0 592.4,497.0 610.1,497.6 629.2,498.5 644.9,516.8 662.7,516.9 680.4,517.9 701.0,519.8 717.3,521.1 734.9,521.2 755.3,521.0 773.1,519.3 789.0,523.1 806.6,521.9"/>
<polyline points="448.0,510.4 467.3,510.7 486.1,511.0 500.6,511.3 519.4,511.6 538.7,511.8 558.0,512.1 576.1,512.4 592.6,512.7 611.3,513.0 628.7,513.3 644.8,540.4 660.6,541.0 680.6,541.6 695.3,542.2 711.9,542.8 728.9,543.4 745.8,544.0 764.1,544.5 782.0,545.1 798.6,545.7"/>
<polyline points="447.7,530.1 467.1,528.8 483.3,530.5 501.5,529.1 520.1,532.5 537.9,529.9 554.5,531.9 572.4,531.1 592.9,532.2 609.6,532.6 628.1,533.4 645.5,554.9 660.4,553.8 678.5,557.6 694.6,558.0 709.6,555.1 727.9,556.5 744.4,558.1 759.7,559.5 777.3,559.9 794.0,560.8"/>
<polyline points="447.3,548.0 463.7,547.5 484.3,547.9 499.4,549.4 519.1,548.2 538.5,548.7 553.8,550.4 573.1,552.4 592.7,549.2 608.3,550.0 627.5,551.1 643.4,567.5 658.5,567.9 676.7,571.6 691.7,569.3 706.7,571.9 725.5,572.4 740.8,571.0 757.0,571.3 773.8,573.1 789.5,572.0"/>
<polyline points="447.0,567.5 464.4,569.1 482.6,567.1 500.1,566.5 519.0,570.2 536.8,569.8 553.9,568.4 571.4,570.0 590.9,567.5 606.8,570.6 626.9,571.1 643.6,585.1 658.0,583.6 675.8,586.7 690.6,584.8 707.1,585.8 720.1,587.3 736.7,586.6 755.0,586.5 768.9,586.1 784.9,586.5"/>
<polyline points="446.7,587.9 463.7,587.0 480.9,584.9 500.6,588.9 518.0,587.9 536.9,586.1 552.5,588.9 573.5,589.3 591.6,589.8 608.6,589.9 626.2,587.4 642.0,599.9 658.0,598.5 673.8,599.0 686.5,598.9 704.7,600.0 718.5,599.9 732.5,601.8 750.4,601.3 764.8,603.5 780.4,603.4"/>
<polyline points="446.3,603.6 464.9,607.3 483.1,605.3 502.0,605.9 519.8,605.6 534.7,607.5 552.3,608.1 569.8,609.1 591.2,605.7 607.7,607.6 625.6,607.3 641.1,614.0 654.3,615.4 671.5,614.5 683.8,612.7 702.7,615.1 717.4,616.1 729.8,614.5 747.5,613.9 760.0,615.5 775.8,618.2"/>
<polyline points="446.0,624.0 462.3,624.3 483.4,624.6 498.1,625.0 518.9,625.3 536.5,625.6 552.7,625.9 570.5,626.2 589.4,626.6 606.3,626.9 625.0,627.3 641.2,627.6 656.0,628.0 670.7,628.3 683.4,628.6 698.5,629.0 712.2,629.3 725.8,629.7 741.0,630.0 757.1,630.4 771.2,630.7"/>
<polyline points="176.5,614.0 171.7,631.5 167.0,650.8 162.2,672.5 157.4,690.4 152.8,711.4 148.3,728.3 143.7,749.6 139.2,769.3"/>
<polyline points="189.7,614.7 186.3,634.8 182.9,654.7 180.2,673.1 176.1,690.5 170.5,710.5 167.2,729.1 164.4,749.6 160.0,769.6"/>
<polyline points="207.6,615.4 204.1,634.2 200.3,656.0 193.7,674.2 192.8,692.3 187.5,710.4 184.8,733.0 181.4,749.5 179.0,769.9"/>
<polyline points="220.2,616.2 218.1,635.2 213.9,652.6 213.2,674.4 208.0,693.0 206.6,712.3 205.3,732.8 200.1,750.2 198.6,770.3"/>
<polyline points="233.8,616.9 234.8,634.1 230.8,654.3 228.7,672.5 225.2,695.6 225.4,711.6 221.9,730.1 218.4,750.0 219.9,770.6"/>
<polyline points="249.2,617.6 247.3,634.9 245.2,658.0 246.2,676.8 245.1,695.3 241.1,711.9 239.6,730.7 237.7,752.6 237.5,770.9"/>
<polyline points="262.8,618.4 263.0,638.9 264.4,657.5 262.9,677.4 261.2,694.2 260.4,712.9 257.2,732.0 258.1,750.5 255.6,771.2"/>
<polyline points="279.7,619.1 279.4,637.1 279.0,656.6 278.7,678.2 278.4,695.2 278.1,715.8 277.7,734.4 277.4,752.9 277.1,771.6"/>
<polyline points="299.7,619.7 299.7,638.0 300.5,659.3 300.9,676.1 297.9,693.9 299.4,713.9 296.7,733.3 297.4,752.0 298.9,772.3"/>
<polyline points="321.6,620.3 320.1,640.4 319.6,660.3 319.0,678.0 321.2,697.7 320.0,717.4 320.4,735.7 317.9,752.7 319.3,773.1"/>
<polyline points="342.3,620.9 340.2,641.1 341.0,659.1 341.6,679.7 340.5,697.7 341.6,717.2 340.2,734.7 340.6,755.2 341.2,773.9"/>
<polyline points="361.3,621.6 362.5,640.9 361.3,658.2 364.2,677.0 362.3,697.2 360.2,716.3 360.6,736.0 363.6,753.8 361.1,774.7"/>
<polyline points="384.5,622.2 384.1,639.3 382.3,659.6 385.0,679.4 382.3,698.7 383.1,716.5 383.8,738.1 382.9,756.5 384.1,775.5"/>
<polyline points="406.4,622.8 404.8,640.0 404.4,661.8 403.6,681.1 403.7,700.0 404.7,719.4 406.0,738.8 405.0,757.9 403.0,776.3"/>
<polyline points="425.7,623.4 425.7,640.8 426.3,660.7 425.2,681.1 426.2,701.3 425.1,721.3 425.0,738.9 427.3,757.1 426.2,777.0"/>
<polyline points="446.0,624.0 446.1,645.1 446.1,660.7 446.2,682.8 446.2,701.5 446.3,720.3 446.4,740.5 446.4,760.1 446.5,777.8"/>
<polyline points="465.3,624.4 466.8,644.1 467.7,664.8 468.2,683.5 465.2,701.0 468.8,722.4 468.2,739.1 468.3,759.2 467.9,778.3"/>
<polyline points="488.1,624.7 489.1,644.9 489.6,663.2 487.7,683.2 488.0,699.9 489.7,720.3 487.9,738.4 486.6,761.4 487.1,778.8"/>
<polyline points="507.4,625.1 509.6,643.3 509.1,664.0 510.1,682.8 507.8,701.2 508.0,719.4 507.0,739.3 507.9,761.2 510.6,779.3"/>
<polyline points="528.4,625.5 528.0,643.9 529.7,664.0 527.6,683.5 528.3,701.2 530.5,720.3 529.1,742.4 529.6,762.1 528.7,779.9"/>
<polyline points="551.6,625.9 547.9,646.8 549.6,662.4 548.9,685.9 550.9,704.1 551.4,720.4 549.3,741.6 551.9,762.8 548.8,780.4"/>
<polyline points="572.5,626.2 570.8,644.7 568.9,664.6 570.8,684.0 569.9,705.5 570.7,722.1 572.0,741.2 570.6,759.9 569.9,780.9"/>
<polyline points="593.3,626.6 591.8,646.1 592.1,666.0 591.5,684.1 590.0,702.0 590.0,723.0 589.6,743.5 591.0,761.0 591.0,781.5"/>
<polyline points="612.0,627.0 612.1,646.3 612.1,664.6 612.2,686.7 612.2,704.5 612.3,722.2 612.4,741.7 612.4,764.4 612.5,782.2"/>
<polyline points="635.2,627.5 633.2,647.8 631.4,668.0 634.3,686.4 629.8,704.8 632.3,725.0 628.9,742.9 627.5,763.5 627.2,782.8"/>
<polyline points="657.5,628.0 657.7,649.1 654.4,668.1 651.2,688.2 652.6,705.7 651.0,724.3 649.8,743.8 647.9,765.4 646.3,783.4"/>
<polyline points="681.5,628.6 676.2,647.1 676.1,669.2 673.7,684.9 669.8,705.7 666.5,724.6 665.5,744.6 661.9,764.2 662.2,783.9"/>
<polyline points="703.7,629.1 700.9,650.4 694.5,669.6 691.4,686.2 690.7,707.9 686.8,726.2 683.9,745.4 678.3,763.9 674.6,784.5"/>
<polyline points="724.0,629.6 723.6,651.0 716.8,668.2 712.3,689.2 708.9,706.1 706.3,728.7 698.6,746.1 695.1,766.3 691.4,785.1"/>
<polyline points="747.8,630.2 742.7,650.1 738.4,669.1 734.0,688.5 730.0,707.8 724.3,729.3 718.5,747.2 714.1,767.1 706.5,785.6"/>
<polyline points="771.2,630.7 765.2,649.9 759.2,668.2 753.3,687.1 747.3,709.4 741.3,727.3 735.4,746.4 729.4,764.8 723.5,786.2"/>
<polyline points="176.5,614.0 189.7,614.7 207.6,615.4 220.2,616.2 233.8,616.9 249.2,617.6 262.8,618.4 279.7,619.1 299.7,619.7 321.6,620.3 342.3,620.9 361.3,621.6 384.5,622.2 406.4,622.8 425.7,623.4 446.0,624.0 465.3,624.4 488.1,624.7 507.4,625.1 528.4,625.5 551.6,625.9 572.5,626.2 593.3,626.6 612.0,627.0 635.2,627.5 657.5,628.0 681.5,628.6 703.7,629.1 724.0,629.6 747.8,630.2 771.2,630.7"/>
<polyline points="171.7,631.5 186.3,634.8 204.1,634.2 218.1,635.2 234.8,634.1 247.3,634.9 263.0,638.9 279.4,637.1 299.7,638.0 320.1,640.4 340.2,641.1 362.5,640.9 384.1,639.3 404.8,640.0 425.7,640.8 446.1,645.1 466.8,644.1 489.1,644.9 509.6,643.3 528.0,643.9 547.9,646.8 570.8,644.7 591.8,646.1 612.1,646.3 633.2,647.8 657.7,649.1 676.2,647.1 700.9,650.4 723.6,651.0 742.7,650.1 765.2,649.9"/>
<polyline points="167.0,650.8 182.9,654.7 200.3,656.0 213.9,652.6 230.8,654.3 245.2,658.0 264.4,657.5 279.0,656.6 300.5,659.3 319.6,660.3 341.0,659.1 361.3,658.2 382.3,659.6 404.4,661.8 426.3,660.7 446.1,660.7 467.7,664.8 489.6,663.2 509.1,664.0 529.7,664.0 549.6,662.4 568.9,664.6 592.1,666.0 612.1,664.6 631.4,668.0 654.4,668.1 676.1,669.2 694.5,669.6 716.8,668.2 738.4,669.1 759.2,668.2"/>
<polyline points="162.2,672.5 180.2,673.1 193.7,674.2 213.2,674.4 228.7,672.5 246.2,676.8 262.9,677.4 278.7,678.2 300.9,676.1 319.0,678.0 341.6,679.7 364.2,677.0 385.0,679.4 403.6,681.1 425.2,681.1 446.2,682.8 468.2,683.5 487.7,683.2 510.1,682.8 527.6,683.5 548.9,685.9 570.8,684.0 591.5,684.1 612.2,686.7 634.3,686.4 651.2,688.2 673.7,684.9 691.4,686.2 712.3,689.2 734.0,688.5 753.3,687.1"/>
<polyline points="157.4,690.4 176.1,690.5 192.8,692.3 208.0,693.0 225.2,695.6 245.1,695.3 261.2,694.2 278.4,695.2 297.9,693.9 321.2,697.7 340.5,697.7 362.3,697.2 382.3,698.7 403.7,700.0 426.2,701.3 446.2,701.5 465.2,701.0 488.0,699.9 507.8,701.2 528.3,701.2 550.9,704.1 569.9,705.5 590.0,702.0 612.2,704.5 629.8,704.8 652.6,705.7 669.8,705.7 690.7,707.9 708.9,706.1 730.0,707.8 747.3,709.4"/>
<polyline points="152.8,711.4 170.5,710.5 187.5,710.4 206.6,712.3 225.4,711.6 241.1,711.9 260.4,712.9 278.1,715.8 299.4,713.9 320.0,717.4 341.6,717.2 360.2,716.3 383.1,716.5 404.7,719.4 425.1,721.3 446.3,720.3 468.8,722.4 489.7,720.3 508.0,719.4 530.5,720.3 551.4,720.4 570.7,722.1 590.0,723.0 612.3,722.2 632.3,725.0 651.0,724.3 666.5,724.6 686.8,726.2 706.3,728.7 724.3,729.3 741.3,727.3"/>
<polyline points="148.3,728.3 167.2,729.1 184.8,733.0 205.3,732.8 221.9,730.1 239.6,730.7 257.2,732.0 277.7,734.4 296.7,733.3 320.4,735.7 340.2,734.7 360.6,736.0 383.8,738.1 406.0,738.8 425.0,738.9 446.4,740.5 468.2,739.1 487.9,738.4 507.0,739.3 529.1,742.4 549.3,741.6 572.0,741.2 589.6,743.5 612.4,741.7 628.9,742.9 649.8,743.8 665.5,744.6 683.9,745.4 698.6,746.1 718.5,747.2 735.4,746.4"/>
<polyline points="143.7,749.6 164.4,749.6 181.4,749.5 200.1,750.2 218.4,750.0 237.7,752.6 258.1,750.5 277.4,752.9 297.4,752.0 317.9,752.7 340.6,755.2 363.6,753.8 382.9,756.5 405.0,757.9 427.3,757.1 446.4,760.1 468.3,759.2 486.6,761.4 507.9,761.2 529.6,762.1 551.9,762.8 570.6,759.9 591.0,761.0 612.4,764.4 627.5,763.5 647.9,765.4 661.9,764.2 678.3,763.9 695.1,766.3 714.1,767.1 729.4,764.8"/>
<polyline points="139.2,769.3 160.0,769.6 179.0,769.9 198.6,770.3 219.9,770.6 237.5,770.9 255.6,771.2 277.1,771.6 298.9,772.3 319.3,773.1 341.2,773.9 361.1,774.7 384.1,775.5 403.0,776.3 426.2,777.0 446.5,777.8 467.9,778.3 487.1,778.8 510.6,779.3 528.7,779.9 548.8,780.4 569.9,780.9 591.0,781.5 612.5,782.2 627.2,782.8 646.3,783.4 662.2,783.9 674.6,784.5 691.4,785.1 706.5,785.6 723.5,786.2"/>
<polyline points="370.7,257.0 403.7,248.3"/>
<polyline points="370.7,257.0 391.0,278.8"/>
<polyline points="370.7,257.0 358.7,293.4"/>
<polyline points="370.7,257.0 346.2,265.7"/>
<polyline points="370.7,257.0 351.5,240.5"/>
<polyline points="370.7,257.0 364.7,224.0"/>
<polyline points="370.7,257.0 390.8,224.8"/>
<polyline points="464.7,260.0 499.4,262.1"/>
<polyline points="464.7,260.0 492.9,283.9"/>
<polyline points="464.7,260.0 461.1,292.9"/>
<polyline points="464.7,260.0 438.3,268.8"/>
<polyline points="464.7,260.0 438.2,251.1"/>
<polyline points="464.7,260.0 465.8,226.2"/>
<polyline points="464.7,260.0 484.3,234.6"/>
<polyline points="593.0,261.5 617.6,263.6"/>
<polyline points="593.0,261.5 610.2,275.1"/>
<polyline points="593.0,261.5 584.8,291.2"/>
<polyline points="593.0,261.5 562.4,267.4"/>
<polyline points="593.0,261.5 562.7,239.0"/>
<polyline points="593.0,261.5 586.8,234.6"/>
<polyline points="593.0,261.5 609.3,240.4"/>
<polyline points="666.0,262.0 691.6,267.1"/>
<polyline points="666.0,262.0 683.7,287.9"/>
<polyline points="666.0,262.0 642.6,278.3"/>
<polyline points="666.0,262.0 645.3,245.8"/>
<polyline points="666.0,262.0 673.1,243.7"/>
<polyline points="376.7,102.5 411.3,103.2"/>
<polyline points="376.7,102.5 392.3,118.8"/>
<polyline points="376.7,102.5 372.1,137.2"/>
<polyline points="376.7,102.5 356.6,121.7"/>
<polyline points="465.7,139.6 498.7,146.1"/>
<polyline points="465.7,139.6 484.9,165.2"/>
<polyline points="465.7,139.6 459.4,163.7"/>
<polyline points="465.7,139.6 446.8,163.7"/>
<polyline points="594.2,212.4 617.7,230.1"/>
<polyline points="594.2,212.4 597.6,235.8"/>
<polyline points="594.2,212.4 582.6,236.7"/>
<polyline points="594.2,212.4 572.3,224.1"/>
<polyline points="667.3,255.6 689.8,265.4"/>
<polyline points="667.3,255.6 676.0,283.2"/>
<polyline points="667.3,255.6 658.1,277.8"/>
<polyline points="667.3,255.6 644.4,266.9"/>
<polyline points="230.3,378.0 233.9,352.9"/>
<polyline points="230.3,378.0 250.8,359.3"/>
<polyline points="230.3,378.0 252.1,369.4"/>
<polyline points="230.3,378.0 262.2,389.1"/>
<polyline points="230.3,378.0 245.6,403.6"/>
<polyline points="209.2,468.8 216.7,443.4"/>
<polyline points="209.2,468.8 232.2,442.4"/>
<polyline points="209.2,468.8 237.4,464.7"/>
<polyline points="209.2,468.8 227.0,479.0"/>
<polyline points="209.2,468.8 229.6,499.9"/>
<polyline points="176.5,614.0 183.5,590.8"/>
<polyline points="176.5,614.0 199.1,591.8"/>
<polyline points="176.5,614.0 203.1,608.3"/>
<polyline points="176.5,614.0 209.8,621.7"/>
<polyline points="176.5,614.0 194.6,634.7"/>
<polyline points="176.5,614.0 185.0,635.1"/>
<polyline points="139.2,769.3 142.4,742.4"/>
<polyline points="139.2,769.3 151.9,742.8"/>
<polyline points="139.2,769.3 170.5,725.9"/>
<polyline points="139.2,769.3 178.7,742.6"/>
<polyline points="139.2,769.3 169.8,759.0"/>
<polyline points="279.7,619.1 313.3,615.8"/>
<polyline points="279.7,619.1 296.6,646.8"/>
<polyline points="279.7,619.1 252.5,628.7"/>
<polyline points="279.7,619.1 253.0,606.1"/>
<polyline points="279.7,619.1 295.7,596.7"/>
<polyline points="446.0,624.5 473.3,619.6"/>
<polyline points="446.0,624.5 452.4,651.2"/>
<polyline points="446.0,624.5 439.7,644.8"/>
<polyline points="446.0,624.5 427.3,623.0"/>
<polyline points="446.0,624.5 428.2,608.4"/>
<polyline points="446.0,624.5 455.4,600.4"/>
<polyline points="614.0,627.0 640.0,619.9"/>
<polyline points="614.0,627.0 623.3,648.1"/>
<polyline points="614.0,627.0 599.6,649.2"/>
<polyline points="614.0,627.0 587.2,622.1"/>
<polyline points="614.0,627.0 602.6,602.5"/>
<polyline points="614.0,627.0 627.0,612.4"/>
<polyline points="771.2,630.7 776.6,667.6"/>
<polyline points="771.2,630.7 757.4,645.4"/>
<polyline points="771.2,630.7 739.5,636.0"/>
<polyline points="771.2,630.7 740.5,616.0"/>
<polyline points="771.2,630.7 757.3,613.3"/>
<polyline points="798.6,545.7 802.5,588.3"/>
<polyline points="798.6,545.7 788.0,575.7"/>
<polyline points="798.6,545.7 762.9,578.4"/>
<polyline points="798.6,545.7 768.9,551.3"/>
<polyline points="798.6,545.7 755.2,521.9"/>
<polyline points="798.6,545.7 777.1,524.8"/>
<polyline points="830.0,451.4 821.7,487.0"/>
<polyline points="830.0,451.4 805.5,489.8"/>
<polyline points="830.0,451.4 796.0,477.4"/>
<polyline points="830.0,451.4 799.5,459.8"/>
<polyline points="830.0,451.4 793.0,443.5"/>
<polyline points="830.0,451.4 807.5,432.7"/>
<polyline points="830.0,451.4 815.0,422.2"/>
<polyline points="797.8,345.6 806.9,359.5"/>
<polyline points="797.8,345.6 797.2,375.3"/>
<polyline points="797.8,345.6 781.2,367.6"/>
<polyline points="797.8,345.6 772.5,347.8"/>
<polyline points="365.5,440.3 369.3,461.4"/>
<polyline points="365.5,440.3 352.7,454.0"/>
<polyline points="365.5,440.3 348.4,436.5"/>
<polyline points="365.5,440.3 360.7,418.0"/>
<polyline points="365.5,440.3 374.7,423.9"/>
<polyline points="365.0,492.0 381.4,488.6"/>
<polyline points="365.0,492.0 374.9,504.7"/>
<polyline points="365.0,492.0 359.0,509.8"/>
<polyline points="365.0,492.0 346.2,495.0"/>
<polyline points="365.0,492.0 345.3,470.5"/>
<polyline points="425.0,442.0 406.5,438.2"/>
<polyline points="425.0,442.0 412.3,422.8"/>
<polyline points="425.0,442.0 429.1,419.5"/>
<polyline points="425.0,442.0 439.0,428.6"/>
<polyline points="531.0,444.8 506.6,441.2"/>
<polyline points="531.0,444.8 518.7,416.6"/>
<polyline points="531.0,444.8 536.0,426.9"/>
<polyline points="531.0,444.8 554.0,433.8"/>
<polyline points="531.0,444.8 555.2,459.8"/>
<polyline points="531.0,511.0 523.7,485.6"/>
<polyline points="531.0,511.0 563.3,497.1"/>
<polyline points="531.0,511.0 558.7,523.4"/>
<polyline points="531.0,511.0 540.1,545.8"/>
<polyline points="531.0,511.0 512.3,529.5"/>
<polyline points="631.0,445.0 662.2,444.9"/>
<polyline points="631.0,445.0 638.2,470.4"/>
<polyline points="631.0,445.0 611.5,464.1"/>
<polyline points="631.0,445.0 605.6,426.9"/>
<polyline points="631.0,445.0 651.4,420.4"/>
<polyline points="631.0,513.0 648.6,519.2"/>
<polyline points="631.0,513.0 644.9,531.8"/>
<polyline points="631.0,513.0 606.0,523.0"/>
<polyline points="631.0,513.0 613.3,504.6"/>
<polyline points="631.0,513.0 633.5,493.1"/>
<polyline points="626.0,627.0 601.7,631.1"/>
<polyline points="626.0,627.0 612.2,616.7"/>
<polyline points="626.0,627.0 626.9,610.3"/>
<polyline points="626.0,627.0 645.0,613.2"/>
<polyline points="277.5,774.0 248.4,768.8"/>
<polyline points="277.5,774.0 263.5,756.6"/>
<polyline points="277.5,774.0 276.6,749.9"/>
<polyline points="277.5,774.0 299.3,749.8"/>
<polyline points="446.0,780.0 411.6,780.8"/>
<polyline points="446.0,780.0 429.3,766.5"/>
<polyline points="446.0,780.0 433.5,752.3"/>
<polyline points="446.0,780.0 455.9,757.9"/>
<polyline points="446.0,780.0 466.1,762.3"/>
<polyline points="612.0,785.0 584.4,785.4"/>
<polyline points="612.0,785.0 590.2,763.1"/>
<polyline points="612.0,785.0 601.9,760.9"/>
<polyline points="612.0,785.0 619.1,763.3"/>
<polyline points="612.0,785.0 628.6,771.9"/>
<polyline points="721.0,788.0 683.7,786.5"/>
<polyline points="721.0,788.0 693.6,771.6"/>
<polyline points="721.0,788.0 700.2,764.7"/>
<polyline points="721.0,788.0 715.2,765.2"/>
<polyline points="271.6,196.3 283.1,177.0"/>
<polyline points="271.6,196.3 290.5,185.7"/>
<polyline points="271.6,196.3 294.3,205.7"/>
<polyline points="271.6,196.3 283.9,210.2"/>
</g>
<g fill="none" stroke="#202010" stroke-opacity="0.38" stroke-width="0.8">
<polyline points="258.0,251.4 275.0,252.0 292.0,252.6 309.0,253.2 326.0,253.8 343.0,254.4 360.0,255.0 377.0,255.6 394.0,256.1 411.0,256.7 428.0,257.2 445.0,257.8 462.0,258.3 479.0,258.6 496.0,258.8 513.0,259.0 530.0,259.2 547.0,259.4 564.0,259.6 581.0,259.8 598.0,259.9 615.0,260.1 632.0,260.2 649.0,260.3 666.0,260.4"/>
<polyline points="258.0,254.6 275.0,255.2 292.0,255.8 309.0,256.4 326.0,257.0 343.0,257.6 360.0,258.2 377.0,258.8 394.0,259.3 411.0,259.9 428.0,260.4 445.0,261.0 462.0,261.5 479.0,261.8 496.0,262.0 513.0,262.2 530.0,262.4 547.0,262.6 564.0,262.8 581.0,263.0 598.0,263.1 615.0,263.3 632.0,263.4 649.0,263.5 666.0,263.6"/>
<polyline points="230.3,376.4 235.9,376.5 241.5,376.6 247.1,376.8 252.8,376.9 258.4,377.0 264.0,377.1 269.6,377.3 275.2,377.4 280.8,377.5 286.4,377.6 292.0,377.8 297.6,377.9 303.3,378.0 308.9,378.1 314.5,378.3 320.1,378.4 325.7,378.5 331.3,378.6 336.9,378.8 342.6,378.9 348.2,379.0 353.8,379.1 359.4,379.3 365.0,379.4"/>
<polyline points="230.3,379.6 235.9,379.7 241.5,379.9 247.1,380.0 252.8,380.1 258.4,380.2 264.0,380.4 269.6,380.5 275.2,380.6 280.8,380.7 286.4,380.9 292.0,381.0 297.6,381.1 303.3,381.2 308.9,381.4 314.5,381.5 320.1,381.6 325.7,381.7 331.3,381.9 336.9,382.0 342.6,382.1 348.2,382.2 353.8,382.4 359.4,382.5 365.0,382.6"/>
<polyline points="209.2,467.2 215.6,467.4 222.1,467.6 228.5,467.8 235.0,467.9 241.4,468.1 247.9,468.3 254.3,468.5 260.8,468.7 267.2,468.9 273.7,469.1 280.1,469.3 286.6,469.4 293.1,469.6 299.5,469.8 305.9,470.0 312.4,470.2 318.9,470.4 325.3,470.6 331.8,470.8 338.2,470.9 344.6,471.1 351.1,471.3 357.5,471.5 364.0,471.7"/>
<polyline points="209.2,470.4 215.6,470.6 222.1,470.8 228.5,471.0 235.0,471.2 241.4,471.3 247.9,471.5 254.3,471.7 260.8,471.9 267.2,472.1 273.7,472.3 280.1,472.5 286.6,472.7 293.1,472.8 299.5,473.0 305.9,473.2 312.4,473.4 318.9,473.6 325.3,473.8 331.8,474.0 338.2,474.2 344.6,474.3 351.1,474.5 357.5,474.7 364.0,474.9"/>
<polyline points="531.0,443.2 543.4,443.4 555.8,443.6 568.2,443.8 580.7,444.0 593.1,444.1 605.5,444.3 617.9,444.5 630.3,444.7 642.8,444.9 655.2,445.1 667.6,445.3 680.0,445.7 692.4,446.0 704.8,446.4 717.2,446.7 729.7,447.0 742.1,447.4 754.5,447.7 766.9,448.1 779.3,448.4 791.8,448.8 804.2,449.1 816.6,449.5 829.0,449.8"/>
<polyline points="531.0,446.4 543.4,446.6 555.8,446.8 568.2,447.0 580.7,447.2 593.1,447.3 605.5,447.5 617.9,447.7 630.3,447.9 642.8,448.1 655.2,448.3 667.6,448.5 680.0,448.9 692.4,449.2 704.8,449.6 717.2,449.9 729.7,450.2 742.1,450.6 754.5,450.9 766.9,451.3 779.3,451.6 791.8,452.0 804.2,452.3 816.6,452.7 829.0,453.0"/>
<polyline points="424.0,508.4 432.6,508.5 441.1,508.7 449.7,508.8 458.2,509.0 466.8,509.1 475.4,509.2 483.9,509.4 492.5,509.5 501.0,509.6 509.6,509.8 518.1,509.9 526.7,510.1 535.3,510.2 543.8,510.3 552.4,510.5 560.9,510.6 569.5,510.7 578.0,510.9 586.6,511.0 595.2,511.2 603.7,511.3 612.3,511.4 620.8,511.6 629.4,515.3"/>
<polyline points="424.0,511.6 432.6,511.7 441.1,511.9 449.7,512.0 458.2,512.2 466.8,512.3 475.4,512.4 483.9,512.6 492.5,512.7 501.0,512.8 509.6,513.0 518.1,513.1 526.7,513.3 535.3,513.4 543.8,513.5 552.4,513.7 560.9,513.8 569.5,513.9 578.0,514.1 586.6,514.2 595.2,514.4 603.7,514.5 612.3,514.6 620.8,514.8 629.4,518.5"/>
<polyline points="632.0,538.4 638.9,538.6 645.9,538.9 652.8,539.1 659.8,539.4 666.7,539.6 673.6,539.8 680.6,540.1 687.5,540.3 694.5,540.5 701.4,540.8 708.4,541.0 715.3,541.2 722.2,541.5 729.2,541.7 736.1,542.0 743.1,542.2 750.0,542.4 757.0,542.7 763.9,542.9 770.8,543.1 777.8,543.4 784.7,543.6 791.7,543.9 798.6,544.1"/>
<polyline points="632.0,541.6 638.9,541.8 645.9,542.1 652.8,542.3 659.8,542.6 666.7,542.8 673.6,543.0 680.6,543.3 687.5,543.5 694.5,543.7 701.4,544.0 708.4,544.2 715.3,544.5 722.2,544.7 729.2,544.9 736.1,545.2 743.1,545.4 750.0,545.6 757.0,545.9 763.9,546.1 770.8,546.4 777.8,546.6 784.7,546.8 791.7,547.1 798.6,547.3"/>
<polyline points="176.5,612.4 201.3,613.6 226.1,614.8 250.8,616.1 275.6,617.3 300.4,618.1 325.2,618.8 350.0,619.6 374.7,620.3 399.5,621.0 424.3,621.8 449.1,622.5 473.9,622.9 498.6,623.3 523.4,623.8 548.2,624.2 573.0,624.7 597.7,625.1 622.5,625.6 647.3,626.2 672.1,626.8 696.9,627.4 721.6,627.9 746.4,628.5 771.2,629.1"/>
<polyline points="176.5,615.6 201.3,616.8 226.1,618.0 250.8,619.3 275.6,620.5 300.4,621.3 325.2,622.0 350.0,622.8 374.7,623.5 399.5,624.2 424.3,625.0 449.1,625.7 473.9,626.1 498.6,626.5 523.4,627.0 548.2,627.4 573.0,627.9 597.7,628.3 622.5,628.8 647.3,629.4 672.1,630.0 696.9,630.6 721.6,631.1 746.4,631.7 771.2,632.3"/>
<polyline points="375.1,102.5 374.3,124.0 373.4,145.5 372.6,167.1 371.8,188.6 370.9,210.1 370.1,231.6 369.2,253.1 368.4,274.7 367.6,296.2 366.8,317.7 366.0,339.2 365.4,360.8 364.8,382.3 364.2,403.8 363.5,425.3 362.9,446.8 362.3,468.4 361.7,489.9 361.2,511.4 360.8,532.9 360.5,554.4 360.1,576.0 359.8,597.5 359.4,619.0"/>
<polyline points="378.3,102.5 377.5,124.0 376.6,145.5 375.8,167.1 375.0,188.6 374.1,210.1 373.3,231.6 372.4,253.1 371.6,274.7 370.8,296.2 370.0,317.7 369.2,339.2 368.6,360.8 368.0,382.3 367.4,403.8 366.7,425.3 366.1,446.8 365.5,468.4 364.9,489.9 364.4,511.4 364.0,532.9 363.7,554.4 363.3,576.0 363.0,597.5 362.6,619.0"/>
<polyline points="464.1,139.6 464.0,152.2 463.9,164.7 463.8,177.3 463.7,189.8 463.6,202.4 463.5,214.9 463.4,227.5 463.3,240.1 463.2,252.6 463.0,265.2 462.9,277.7 462.8,290.3 462.6,302.9 462.5,315.4 462.3,328.0 462.2,340.5 462.1,353.1 461.9,365.6 461.8,378.2 461.7,390.8 461.5,403.3 461.4,415.9 461.2,428.4 461.1,441.0"/>
<polyline points="467.3,139.6 467.2,152.2 467.1,164.7 467.0,177.3 466.9,189.8 466.8,202.4 466.7,214.9 466.6,227.5 466.5,240.1 466.4,252.6 466.2,265.2 466.1,277.7 466.0,290.3 465.8,302.9 465.7,315.4 465.5,328.0 465.4,340.5 465.3,353.1 465.1,365.6 465.0,378.2 464.9,390.8 464.7,403.3 464.6,415.9 464.4,428.4 464.3,441.0"/>
<polyline points="592.6,212.4 592.4,222.1 592.2,231.7 592.0,241.3 591.7,251.0 591.5,260.6 591.3,270.3 591.1,279.9 590.9,289.6 590.6,299.2 590.4,308.9 590.2,318.6 590.0,328.2 589.8,337.9 589.6,347.5 589.4,357.1 589.1,366.8 588.9,376.4 588.7,386.1 588.5,395.8 588.3,405.4 588.0,415.0 587.8,424.7 587.6,434.4 587.4,444.0"/>
<polyline points="595.8,212.4 595.6,222.1 595.4,231.7 595.2,241.3 594.9,251.0 594.7,260.6 594.5,270.3 594.3,279.9 594.1,289.6 593.9,299.2 593.6,308.9 593.4,318.6 593.2,328.2 593.0,337.9 592.8,347.5 592.6,357.1 592.3,366.8 592.1,376.4 591.9,386.1 591.7,395.8 591.5,405.4 591.2,415.0 591.0,424.7 590.8,434.4 590.6,444.0"/>
<polyline points="665.7,255.6 665.5,263.6 665.3,271.6 665.2,279.5 665.0,287.5 664.8,295.5 664.6,303.4 664.4,311.4 664.3,319.4 664.1,327.4 663.9,335.4 663.7,343.3 663.5,351.3 663.4,359.3 663.2,367.2 663.0,375.2 662.8,383.2 662.7,391.2 662.5,399.1 662.3,407.1 662.1,415.1 661.9,423.1 661.8,431.1 661.6,439.0 661.4,447.0"/>
<polyline points="668.9,255.6 668.7,263.6 668.5,271.6 668.4,279.5 668.2,287.5 668.0,295.5 667.8,303.4 667.6,311.4 667.5,319.4 667.3,327.4 667.1,335.4 666.9,343.3 666.8,351.3 666.6,359.3 666.4,367.2 666.2,375.2 666.0,383.2 665.9,391.2 665.7,399.1 665.5,407.1 665.3,415.1 665.1,423.1 665.0,431.1 664.8,439.0 664.6,447.0"/>
<polyline points="629.4,444.0 629.1,451.6 628.9,459.2 628.6,466.9 628.4,474.5 628.1,482.1 627.9,489.8 627.6,497.4 627.4,505.0 627.1,512.6 626.9,520.2 626.6,527.9 626.4,535.5 626.1,543.1 625.9,550.8 625.6,558.4 625.4,566.0 625.1,573.6 624.9,581.2 624.6,588.9 624.4,596.5 624.1,604.1 623.9,611.8 623.6,619.4 623.4,627.0"/>
<polyline points="632.6,444.0 632.4,451.6 632.1,459.2 631.9,466.9 631.6,474.5 631.4,482.1 631.1,489.8 630.9,497.4 630.6,505.0 630.4,512.6 630.1,520.2 629.9,527.9 629.6,535.5 629.4,543.1 629.1,550.8 628.9,558.4 628.6,566.0 628.4,573.6 628.1,581.2 627.9,588.9 627.6,596.5 627.4,604.1 627.1,611.8 626.9,619.4 626.6,627.0"/>
<polyline points="610.4,627.0 610.4,633.6 610.4,640.2 610.5,646.9 610.5,653.5 610.5,660.1 610.5,666.8 610.5,673.4 610.6,680.0 610.6,686.6 610.6,693.2 610.6,699.9 610.6,706.5 610.7,713.1 610.7,719.8 610.7,726.4 610.7,733.0 610.8,739.6 610.8,746.2 610.8,752.9 610.8,759.5 610.8,766.1 610.9,772.8 610.9,779.4 610.9,786.0"/>
<polyline points="613.6,627.0 613.6,633.6 613.6,640.2 613.7,646.9 613.7,653.5 613.7,660.1 613.7,666.8 613.7,673.4 613.8,680.0 613.8,686.6 613.8,693.2 613.8,699.9 613.8,706.5 613.9,713.1 613.9,719.8 613.9,726.4 613.9,733.0 614.0,739.6 614.0,746.2 614.0,752.9 614.0,759.5 614.0,766.1 614.1,772.8 614.1,779.4 614.1,786.0"/>
<polyline points="446.4,511.0 446.2,522.3 446.0,533.6 445.8,544.9 445.6,556.2 445.4,567.5 445.2,578.8 445.0,590.0 444.8,601.3 444.6,612.6 444.4,623.9 444.4,635.2 444.5,646.5 444.5,657.8 444.5,669.1 444.6,680.4 444.6,691.7 444.6,703.0 444.7,714.2 444.7,725.5 444.8,736.8 444.8,748.1 444.8,759.4 444.9,770.7 444.9,782.0"/>
<polyline points="449.6,511.0 449.4,522.3 449.2,533.6 449.0,544.9 448.8,556.2 448.6,567.5 448.4,578.8 448.2,590.0 448.0,601.3 447.8,612.6 447.6,623.9 447.6,635.2 447.7,646.5 447.7,657.8 447.7,669.1 447.8,680.4 447.8,691.7 447.8,703.0 447.9,714.2 447.9,725.5 448.0,736.8 448.0,748.1 448.0,759.4 448.1,770.7 448.1,782.0"/>
<polyline points="278.1,619.0 278.0,625.5 277.9,632.1 277.8,638.6 277.6,645.2 277.5,651.7 277.4,658.2 277.3,664.8 277.2,671.3 277.1,677.9 277.0,684.4 276.9,691.0 276.8,697.5 276.6,704.0 276.5,710.6 276.4,717.1 276.3,723.7 276.2,730.2 276.1,736.8 276.0,743.3 275.8,749.8 275.7,756.4 275.6,762.9 275.5,769.5 275.4,776.0"/>
<polyline points="281.3,619.0 281.2,625.5 281.1,632.1 281.0,638.6 280.9,645.2 280.7,651.7 280.6,658.2 280.5,664.8 280.4,671.3 280.3,677.9 280.2,684.4 280.1,691.0 280.0,697.5 279.8,704.0 279.7,710.6 279.6,717.1 279.5,723.7 279.4,730.2 279.3,736.8 279.2,743.3 279.1,749.8 278.9,756.4 278.8,762.9 278.7,769.5 278.6,776.0"/>
</g>
<g fill="none" stroke="#2a2638" stroke-opacity="0.6" stroke-width="0.9">
<polyline points="297.7,99.2 294.0,116.0 290.2,132.7 286.5,149.5 282.8,166.2 279.1,183.0 275.2,199.7 270.7,216.5 266.2,233.2 262.3,250.0 258.7,266.7 255.1,283.5 251.5,300.2 247.9,317.0 244.3,333.7 240.7,350.5 237.1,367.2 233.2,384.0 228.8,400.7 224.6,417.5 221.1,434.2 217.5,451.0 213.9,467.8 209.8,484.5 205.6,501.3 201.6,518.0 197.7,534.8 193.8,551.5 190.2,568.3 186.8,585.0 183.5,601.8 179.9,618.5 175.8,635.3 171.6,652.0 167.5,668.8 163.4,685.5 159.3,702.3 155.4,719.0 151.5,735.8 147.6,752.5 143.7,769.3"/>
<path d="M293.2 101.2L298.2 102.2"/>
<path d="M289.5 118.0L294.5 119.0"/>
<path d="M285.7 134.7L290.7 135.7"/>
<path d="M282.0 151.5L287.0 152.5"/>
<path d="M278.3 168.2L283.3 169.2"/>
<path d="M274.6 185.0L279.6 186.0"/>
<path d="M270.7 201.7L275.7 202.7"/>
<path d="M266.2 218.5L271.2 219.5"/>
<path d="M261.7 235.2L266.7 236.2"/>
<path d="M257.8 252.0L262.8 253.0"/>
<path d="M254.2 268.7L259.2 269.7"/>
<path d="M250.6 285.5L255.6 286.5"/>
<path d="M247.0 302.2L252.0 303.2"/>
<path d="M243.4 319.0L248.4 320.0"/>
<path d="M239.8 335.7L244.8 336.7"/>
<path d="M236.2 352.5L241.2 353.5"/>
<path d="M232.6 369.2L237.6 370.2"/>
<path d="M228.7 386.0L233.7 387.0"/>
<path d="M224.3 402.7L229.3 403.7"/>
<path d="M220.1 419.5L225.1 420.5"/>
<path d="M216.6 436.2L221.6 437.2"/>
<path d="M213.0 453.0L218.0 454.0"/>
<path d="M209.4 469.8L214.4 470.8"/>
<path d="M205.3 486.5L210.3 487.5"/>
<path d="M201.1 503.3L206.1 504.3"/>
<path d="M197.1 520.0L202.1 521.0"/>
<path d="M193.2 536.8L198.2 537.8"/>
<path d="M189.3 553.5L194.3 554.5"/>
<path d="M185.7 570.3L190.7 571.3"/>
<path d="M182.3 587.0L187.3 588.0"/>
<path d="M179.0 603.8L184.0 604.8"/>
<path d="M175.4 620.5L180.4 621.5"/>
<path d="M171.3 637.3L176.3 638.3"/>
<path d="M167.1 654.0L172.1 655.0"/>
<path d="M163.0 670.8L168.0 671.8"/>
<path d="M158.9 687.5L163.9 688.5"/>
<path d="M154.8 704.3L159.8 705.3"/>
<path d="M150.9 721.0L155.9 722.0"/>
<path d="M147.0 737.8L152.0 738.8"/>
<path d="M143.1 754.5L148.1 755.5"/>
<path d="M139.2 771.3L144.2 772.3"/>
<polyline points="139.2,769.3 152.5,769.5 165.8,769.7 179.0,770.0 192.3,770.2 205.6,770.4 218.9,770.6 232.2,770.8 245.4,771.0 258.7,771.3 272.0,771.5 285.3,771.8 298.6,772.3 311.8,772.8 325.1,773.3 338.4,773.8 351.7,774.3 365.0,774.8 378.2,775.3 391.5,775.8 404.8,776.3 418.1,776.8 431.3,777.3 444.6,777.7 457.9,778.1 471.2,778.4 484.5,778.7 497.7,779.1 511.0,779.4 524.3,779.7 537.6,780.1 550.9,780.4 564.1,780.7 577.4,781.1 590.7,781.4 604.0,781.9 617.3,782.4 630.5,782.9 643.8,783.3 657.1,783.8 670.4,784.3 683.7,784.8 696.9,785.2 710.2,785.7 723.5,786.2"/>
<path d="M139.2 769.3V774.3"/>
<path d="M152.5 769.5V774.5"/>
<path d="M165.8 769.7V774.7"/>
<path d="M179.0 770.0V775.0"/>
<path d="M192.3 770.2V775.2"/>
<path d="M205.6 770.4V775.4"/>
<path d="M218.9 770.6V775.6"/>
<path d="M232.2 770.8V775.8"/>
<path d="M245.4 771.0V776.0"/>
<path d="M258.7 771.3V776.3"/>
<path d="M272.0 771.5V776.5"/>
<path d="M285.3 771.8V776.8"/>
<path d="M298.6 772.3V777.3"/>
<path d="M311.8 772.8V777.8"/>
<path d="M325.1 773.3V778.3"/>
<path d="M338.4 773.8V778.8"/>
<path d="M351.7 774.3V779.3"/>
<path d="M365.0 774.8V779.8"/>
<path d="M378.2 775.3V780.3"/>
<path d="M391.5 775.8V780.8"/>
<path d="M404.8 776.3V781.3"/>
<path d="M418.1 776.8V781.8"/>
<path d="M431.3 777.3V782.3"/>
<path d="M444.6 777.7V782.7"/>
<path d="M457.9 778.1V783.1"/>
<path d="M471.2 778.4V783.4"/>
<path d="M484.5 778.7V783.7"/>
<path d="M497.7 779.1V784.1"/>
<path d="M511.0 779.4V784.4"/>
<path d="M524.3 779.7V784.7"/>
<path d="M537.6 780.1V785.1"/>
<path d="M550.9 780.4V785.4"/>
<path d="M564.1 780.7V785.7"/>
<path d="M577.4 781.1V786.1"/>
<path d="M590.7 781.4V786.4"/>
<path d="M604.0 781.9V786.9"/>
<path d="M617.3 782.4V787.4"/>
<path d="M630.5 782.9V787.9"/>
<path d="M643.8 783.3V788.3"/>
<path d="M657.1 783.8V788.8"/>
<path d="M670.4 784.3V789.3"/>
<path d="M683.7 784.8V789.8"/>
<path d="M696.9 785.2V790.2"/>
<path d="M710.2 785.7V790.7"/>
<path d="M723.5 786.2V791.2"/>
<polyline points="827.0,451.4 823.2,462.6 819.4,473.7 815.7,484.9 811.9,496.0 808.1,507.2 804.3,518.4 800.6,529.5 796.8,540.7 793.1,551.8 789.5,563.0 785.9,574.2 782.3,585.3 778.7,596.5 775.1,607.6 771.5,618.8 767.9,630.0 764.5,641.1 761.1,652.3 757.7,663.4 754.2,674.6 750.8,685.8 747.4,696.9 744.0,708.1 740.5,719.2 737.1,730.4 733.7,741.6 730.3,752.7 726.8,763.9 723.4,775.0 720.0,786.2"/>
</g>
<g fill="none" stroke="#2a2638" stroke-opacity="0.8" stroke-width="1.6"><polyline points="293.2,99.2 377.8,102.2 463.5,138.0 471.1,140.7 530.0,173.5 594.2,212.4 667.3,255.6 740.0,302.7 797.3,343.8 803.0,349.0 805.0,356.0 830.5,451.4 798.6,545.7 771.2,630.7 723.5,786.2 721.5,790.4 590.0,786.4 440.0,782.6 280.0,776.6 152.4,774.4 139.2,769.3 155.3,700.0 176.5,614.0 187.6,559.0 200.0,505.6 209.2,468.8 220.8,414.3 230.3,378.0 259.9,240.0 271.6,196.3 293.2,99.2"/><polyline points="365.5,440.3 424.8,441.8 425.5,443.0 531.4,444.8 531.4,511.0 424.8,509.5 424.8,491.5 365.5,491.3 365.5,440.3"/></g>
</g>
<defs>
<linearGradient id="gR" x1="0" y1="0" x2="0" y2="1">
<stop offset="0" stop-color="#ff0000"/>
<stop offset="0.12" stop-color="#ff5a00"/>
<stop offset="0.25" stop-color="#ffd000"/>
<stop offset="0.38" stop-color="#c8ff00"/>
<stop offset="0.5" stop-color="#40f030"/>
<stop offset="0.65" stop-color="#00ff90"/>
<stop offset="0.78" stop-color="#00d0ff"/>
<stop offset="0.9" stop-color="#0070ff"/>
<stop offset="1" stop-color="#0000e0"/>
</linearGradient>
<linearGradient id="gO" x1="0" y1="0" x2="0" y2="1">
<stop offset="0" stop-color="#ff6000"/>
<stop offset="0.1" stop-color="#ffa000"/>
<stop offset="0.22" stop-color="#ffe800"/>
<stop offset="0.36" stop-color="#b0ff00"/>
<stop offset="0.5" stop-color="#40f030"/>
<stop offset="0.65" stop-color="#00ff90"/>
<stop offset="0.78" stop-color="#00d0ff"/>
<stop offset="0.9" stop-color="#0070ff"/>
<stop offset="1" stop-color="#0000e0"/>
</linearGradient>
<linearGradient id="gY" x1="0" y1="0" x2="0" y2="1">
<stop offset="0" stop-color="#e0ff00"/>
<stop offset="0.15" stop-color="#90ff00"/>
<stop offset="0.35" stop-color="#40f030"/>
<stop offset="0.55" stop-color="#00ff90"/>
<stop offset="0.72" stop-color="#00d0ff"/>
<stop offset="0.88" stop-color="#0070ff"/>
<stop offset="1" stop-color="#0000e0"/>
</linearGradient>
<linearGradient id="gG" x1="0" y1="0" x2="0" y2="1">
<stop offset="0" stop-color="#50f820"/>
<stop offset="0.2" stop-color="#20f060"/>
<stop offset="0.45" stop-color="#00f0a0"/>
<stop offset="0.68" stop-color="#00d0ff"/>
<stop offset="0.86" stop-color="#0070ff"/>
<stop offset="1" stop-color="#0000e0"/>
</linearGradient>
<linearGradient id="gG2" x1="0" y1="0" x2="0" y2="1">
<stop offset="0" stop-color="#28f040"/>
<stop offset="0.25" stop-color="#00f090"/>
<stop offset="0.5" stop-color="#00e0d0"/>
<stop offset="0.7" stop-color="#00c0ff"/>
<stop offset="0.88" stop-color="#0060ff"/>
<stop offset="1" stop-color="#0000e0"/>
</linearGradient>
<linearGradient id="gHW" x1="0.47" y1="0" x2="0.53" y2="1">
<stop offset="0" stop-color="#d8ff00"/>
<stop offset="0.12" stop-color="#70f810"/>
<stop offset="0.3" stop-color="#00f890"/>
<stop offset="0.45" stop-color="#00d8f0"/>
<stop offset="0.6" stop-color="#0090ff"/>
<stop offset="0.8" stop-color="#0030f0"/>
<stop offset="1" stop-color="#1020b0"/>
</linearGradient>
<linearGradient id="gHR" x1="0" y1="0" x2="1" y2="0">
<stop offset="0" stop-color="#1030c0"/>
<stop offset="0.4" stop-color="#0090ff"/>
<stop offset="0.7" stop-color="#00e0a0"/>
<stop offset="1" stop-color="#50f030"/>
</linearGradient>
<linearGradient id="gBr" x1="0.75" y1="0" x2="0.25" y2="1">
<stop offset="0" stop-color="#ff0000"/>
<stop offset="0.12" stop-color="#ff5a00"/>
<stop offset="0.25" stop-color="#ffd000"/>
<stop offset="0.38" stop-color="#c8ff00"/>
<stop offset="0.5" stop-color="#40f030"/>
<stop offset="0.65" stop-color="#00ff90"/>
<stop offset="0.78" stop-color="#00d0ff"/>
<stop offset="0.9" stop-color="#0070ff"/>
<stop offset="1" stop-color="#0000e0"/>
</linearGradient>
</defs>
<polygon points="293,100 272.2,129.5 272.2,138.6 280.7,138.6 291,107" fill="url(#gBr)"/>
<polygon points="273,197.5 251.4,229.7 252.4,234.7 261.5,234.7 270,207" fill="url(#gBr)"/>
<polygon points="230.3,379 216,408.5 215.5,414 220.6,414.3 229,387" fill="url(#gBr)"/>
<polygon points="209,469 205.5,472 197.4,504.8 200,505.6 207.5,478" fill="url(#gBr)"/>
<polygon points="139.2,771.4 152.4,771.4 150.2,809.0 136.2,809.0" fill="url(#gR)"/>
<path d="M139.6 771.4L136.6 809.0M152.0 771.4L149.8 809.0M139.2 773.6H152.4" stroke="#202838" stroke-opacity="0.45" stroke-width="0.9" fill="none"/>
<polygon points="265.2,774.6 279.4,774.6 277.4,809.0 263.4,809.0" fill="url(#gO)"/>
<path d="M265.6 774.6L263.8 809.0M279.0 774.6L277.0 809.0M265.2 776.8H279.4" stroke="#202838" stroke-opacity="0.45" stroke-width="0.9" fill="none"/>
<polygon points="433.6,778.6 448.4,778.6 447.0,809.0 432.6,809.0" fill="url(#gY)"/>
<path d="M434.0 778.6L433.0 809.0M448.0 778.6L446.6 809.0M433.6 780.8H448.4" stroke="#202838" stroke-opacity="0.45" stroke-width="0.9" fill="none"/>
<polygon points="600.2,784.2 615.0,784.2 613.8,809.3 599.2,809.3" fill="url(#gG)"/>
<path d="M600.6 784.2L599.6 809.3M614.6 784.2L613.4 809.3M600.2 786.4H615.0" stroke="#202838" stroke-opacity="0.45" stroke-width="0.9" fill="none"/>
<polygon points="707.6,789.6 722.6,789.6 721.2,809.3 706.2,809.3" fill="url(#gG2)"/>
<path d="M708.0 789.6L706.6 809.3M722.2 789.6L720.8 809.3M707.6 791.8H722.6" stroke="#202838" stroke-opacity="0.45" stroke-width="0.9" fill="none"/>
<polygon points="367,442 420,442.5 418.5,456 416.5,467.8 367,467.8" fill="url(#gHW)"/>
<path d="M367 455L392 449L418 443.5M380 467.8L392 449L398 442.3M367 462L386 458L405 467.8M386 458L392 449M405 467.8L412 452L418.5 444" stroke="#203040" stroke-opacity="0.6" stroke-width="0.9" fill="none"/>
<rect x="419.8" y="443" width="5" height="47.5" fill="#ffa500"/>
<path d="M420.3 443V490.5M424.3 443V490.5" stroke="#b06a00" stroke-width="0.8" fill="none" opacity="0.8"/>
<polygon points="522.2,460.7 531.4,443.5 531.4,511.5 522.2,510.2" fill="url(#gHR)"/>
<path d="M522.2 460.7V510.2M526.5 452V511" stroke="#203040" stroke-width="0.8" fill="none" opacity="0.6"/>
<polygon points="424.8,509.5 531.4,511 531.4,514.5 424.8,513" fill="#ffa500"/>
<g font-family="Liberation Sans, sans-serif" fill="#d02030">
<text x="387" y="506.5" font-size="12.6" style="white-space:pre" textLength="143" lengthAdjust="spacingAndGlyphs">567.655 t /  61299.54</text>
<text x="558" y="500" font-size="7">~2</text>
</g>
<g stroke="#ff8090" stroke-opacity="0.4" stroke-width="1.5" fill="none"><path d="M141 764L146.5 711M143 718L147 709L150.5 718M143 764L190 752M184 748L191 752L185 757"/></g>
<g stroke="#48b848" stroke-width="1.3" fill="none" stroke-linecap="round">
<path d="M293.0 100.5l2 3l2 -3M295.0 103.5v3"/>
<path d="M374.7 102.5l2 3l2 -3M376.7 105.5v3"/>
<path d="M464.2 140.5l2 3l2 -3M466.2 143.5v3"/>
<path d="M592.8 213.5l2 3l2 -3M594.8 216.5v3"/>
<path d="M665.5 256.5l2 3l2 -3M667.5 259.5v3"/>
<path d="M796.0 346.5l2 3l2 -3M798.0 349.5v3"/>
<path d="M270.5 197.0l2 3l2 -3M272.5 200.0v3"/>
<path d="M368.7 256.0l2 3l2 -3M370.7 259.0v3"/>
<path d="M462.7 259.0l2 3l2 -3M464.7 262.0v3"/>
<path d="M591.0 260.5l2 3l2 -3M593.0 263.5v3"/>
<path d="M229.0 377.0l2 3l2 -3M231.0 380.0v3"/>
<path d="M208.0 467.5l2 3l2 -3M210.0 470.5v3"/>
<path d="M175.5 613.0l2 3l2 -3M177.5 616.0v3"/>
<path d="M278.0 618.0l2 3l2 -3M280.0 621.0v3"/>
<path d="M444.0 623.5l2 3l2 -3M446.0 626.5v3"/>
<path d="M612.0 626.0l2 3l2 -3M614.0 629.0v3"/>
<path d="M629.0 444.0l2 3l2 -3M631.0 447.0v3"/>
<path d="M363.8 439.0l2 3l2 -3M365.8 442.0v3"/>
<path d="M363.8 490.0l2 3l2 -3M365.8 493.0v3"/>
<path d="M827.0 450.0l2 3l2 -3M829.0 453.0v3"/>
<path d="M796.0 544.5l2 3l2 -3M798.0 547.5v3"/>
<path d="M768.0 629.5l2 3l2 -3M770.0 632.5v3"/>
</g>
<rect x="5" y="51" width="25" height="55" fill="rgb(10,25,160)"/>
<rect x="5" y="106" width="25" height="55" fill="rgb(0,0,240)"/>
<rect x="5" y="161" width="25" height="55" fill="rgb(0,90,250)"/>
<rect x="5" y="216" width="25" height="55" fill="rgb(0,165,250)"/>
<rect x="5" y="271" width="25" height="55" fill="rgb(0,210,255)"/>
<rect x="5" y="326" width="25" height="55" fill="rgb(20,220,190)"/>
<rect x="5" y="381" width="25" height="55" fill="rgb(0,255,130)"/>
<rect x="5" y="436" width="25" height="55" fill="rgb(40,245,50)"/>
<rect x="5" y="491" width="25" height="55" fill="rgb(90,250,0)"/>
<rect x="5" y="546" width="25" height="55" fill="rgb(165,255,0)"/>
<rect x="5" y="601" width="25" height="55" fill="rgb(255,255,0)"/>
<rect x="5" y="656" width="25" height="55" fill="rgb(255,165,0)"/>
<rect x="5" y="711" width="25" height="55" fill="rgb(255,90,0)"/>
<rect x="5" y="766" width="25" height="55" fill="rgb(255,0,0)"/>
<rect x="5" y="821" width="25" height="55" fill="rgb(220,10,100)"/>
<rect x="2" y="2" width="499" height="15.5" fill="#fff"/>
<rect x="2" y="24" width="30" height="15" fill="#fff"/>
<rect x="30" y="44.0" width="9.5" height="13" fill="#fff"/>
<rect x="30" y="99.0" width="42.0" height="13" fill="#fff"/>
<rect x="30" y="154.0" width="42.0" height="13" fill="#fff"/>
<rect x="30" y="209.0" width="42.0" height="13" fill="#fff"/>
<rect x="30" y="264.0" width="42.0" height="13" fill="#fff"/>
<rect x="30" y="319.0" width="42.0" height="13" fill="#fff"/>
<rect x="30" y="374.0" width="42.0" height="13" fill="#fff"/>
<rect x="30" y="429.0" width="42.0" height="13" fill="#fff"/>
<rect x="30" y="484.0" width="42.0" height="13" fill="#fff"/>
<rect x="30" y="539.0" width="42.0" height="13" fill="#fff"/>
<rect x="30" y="594.0" width="34.5" height="13" fill="#fff"/>
<rect x="30" y="649.0" width="42.0" height="13" fill="#fff"/>
<rect x="30" y="704.0" width="42.0" height="13" fill="#fff"/>
<rect x="30" y="759.0" width="42.0" height="13" fill="#fff"/>
<rect x="30" y="814.0" width="42.0" height="13" fill="#fff"/>
<rect x="30" y="869.0" width="42.0" height="13" fill="#fff"/>
<g font-family="Liberation Sans, sans-serif" font-size="12" fill="#000">
<text x="31.8" y="55.0" textLength="6.6" lengthAdjust="spacingAndGlyphs">0</text>
<text x="31.8" y="110.0" textLength="38.4" lengthAdjust="spacingAndGlyphs">0.2073</text>
<text x="31.8" y="165.0" textLength="38.4" lengthAdjust="spacingAndGlyphs">0.4146</text>
<text x="31.8" y="220.0" textLength="38.4" lengthAdjust="spacingAndGlyphs">0.6219</text>
<text x="31.8" y="275.0" textLength="38.4" lengthAdjust="spacingAndGlyphs">0.8292</text>
<text x="31.8" y="330.0" textLength="38.4" lengthAdjust="spacingAndGlyphs">1.0365</text>
<text x="31.8" y="385.0" textLength="38.4" lengthAdjust="spacingAndGlyphs">1.2438</text>
<text x="31.8" y="440.0" textLength="38.4" lengthAdjust="spacingAndGlyphs">1.4511</text>
<text x="31.8" y="495.0" textLength="38.4" lengthAdjust="spacingAndGlyphs">1.6584</text>
<text x="31.8" y="550.0" textLength="38.4" lengthAdjust="spacingAndGlyphs">1.8657</text>
<text x="31.8" y="605.0" textLength="31.3" lengthAdjust="spacingAndGlyphs">2.073</text>
<text x="31.8" y="660.0" textLength="38.4" lengthAdjust="spacingAndGlyphs">2.2803</text>
<text x="31.8" y="715.0" textLength="38.4" lengthAdjust="spacingAndGlyphs">2.4876</text>
<text x="31.8" y="770.0" textLength="38.4" lengthAdjust="spacingAndGlyphs">2.6949</text>
<text x="31.8" y="825.0" textLength="38.4" lengthAdjust="spacingAndGlyphs">2.9022</text>
<text x="31.8" y="880.0" textLength="38.4" lengthAdjust="spacingAndGlyphs">3.1095</text>
<text x="6" y="36" textLength="28" lengthAdjust="spacingAndGlyphs">[mm]</text>
</g>
<g font-family="Liberation Sans, sans-serif" font-size="12.5" fill="#ff0000">
<text x="6.4" y="15.9" textLength="67.5" lengthAdjust="spacingAndGlyphs">Deformation</text>
<text x="79.3" y="15.9">:</text>
<text x="84.7" y="15.9" textLength="27.8" lengthAdjust="spacingAndGlyphs">Mode</text>
<text x="118.8" y="15.9">1</text>
<text x="130.0" y="15.9">/</text>
<text x="138.6" y="15.9">6</text>
<text x="153.8" y="15.9">-</text>
<text x="166.3" y="15.9">T</text>
<text x="179.7" y="15.9">=</text>
<text x="191.4" y="15.9" textLength="52.6" lengthAdjust="spacingAndGlyphs">0.374123,</text>
<text x="255.6" y="15.9">f</text>
<text x="264.6" y="15.9">=</text>
<text x="276.9" y="15.9" textLength="52.0" lengthAdjust="spacingAndGlyphs">2.672915</text>
<text x="337.4" y="15.9">-</text>
<text x="349.3" y="15.9" textLength="48.2" lengthAdjust="spacingAndGlyphs">Eccentric</text>
<text x="404.0" y="15.9" textLength="47.6" lengthAdjust="spacingAndGlyphs">response</text>
<text x="458.0" y="15.9" textLength="40.3" lengthAdjust="spacingAndGlyphs">solution</text>
</g>
<rect x="835.7" y="2" width="16.6" height="14" fill="#d4d0c8"/>
<path d="M835.7 15.6H851.8V2" stroke="#404040" stroke-width="1.1" fill="none"/>
<path d="M836.2 15V2.6H851.3" stroke="#ffffff" stroke-width="1.1" fill="none"/>
<rect x="853.9" y="2" width="16.0" height="14" fill="#d4d0c8"/>
<path d="M853.9 15.6H869.4V2" stroke="#404040" stroke-width="1.1" fill="none"/>
<path d="M854.4 15V2.6H868.9" stroke="#ffffff" stroke-width="1.1" fill="none"/>
<rect x="871.8" y="2" width="16.5" height="14" fill="#d4d0c8"/>
<path d="M871.8 15.6H887.8V2" stroke="#404040" stroke-width="1.1" fill="none"/>
<path d="M872.3 15V2.6H887.3" stroke="#ffffff" stroke-width="1.1" fill="none"/>
<path d="M837.2 4H850.8 M837.4 4L843.2 9.6 M850.6 4L845.4 9.6 M843.2 9.4V14 M845.4 9.4V11.9L843.2 14" stroke="#000" stroke-width="1" fill="none"/>
<path d="M860 6.9L862.4 4.2V13.9" stroke="#000" stroke-width="1.2" fill="none"/>
<path d="M874.2 13.9L879.9 4.3L885.4 13.9" stroke="#000" stroke-width="1" fill="none"/>
<path d="M709 172.5H717.8 M723.2 172.5H732 M720.5 161V169.8 M720.5 175.2V183.8" stroke="#000" stroke-width="1" fill="none"/>
<rect x="719" y="171" width="3" height="3" fill="#000"/><rect x="720" y="172" width="1" height="1" fill="#fff"/>
<rect x="0" y="0" width="890" height="1.6" fill="#000"/><rect x="0" y="0" width="1.7" height="895" fill="#000"/>
<rect x="888.5" y="0" width="1.5" height="895" fill="#000"/><rect x="0" y="893.5" width="890" height="1.5" fill="#000"/>
</svg>
</body></html>
